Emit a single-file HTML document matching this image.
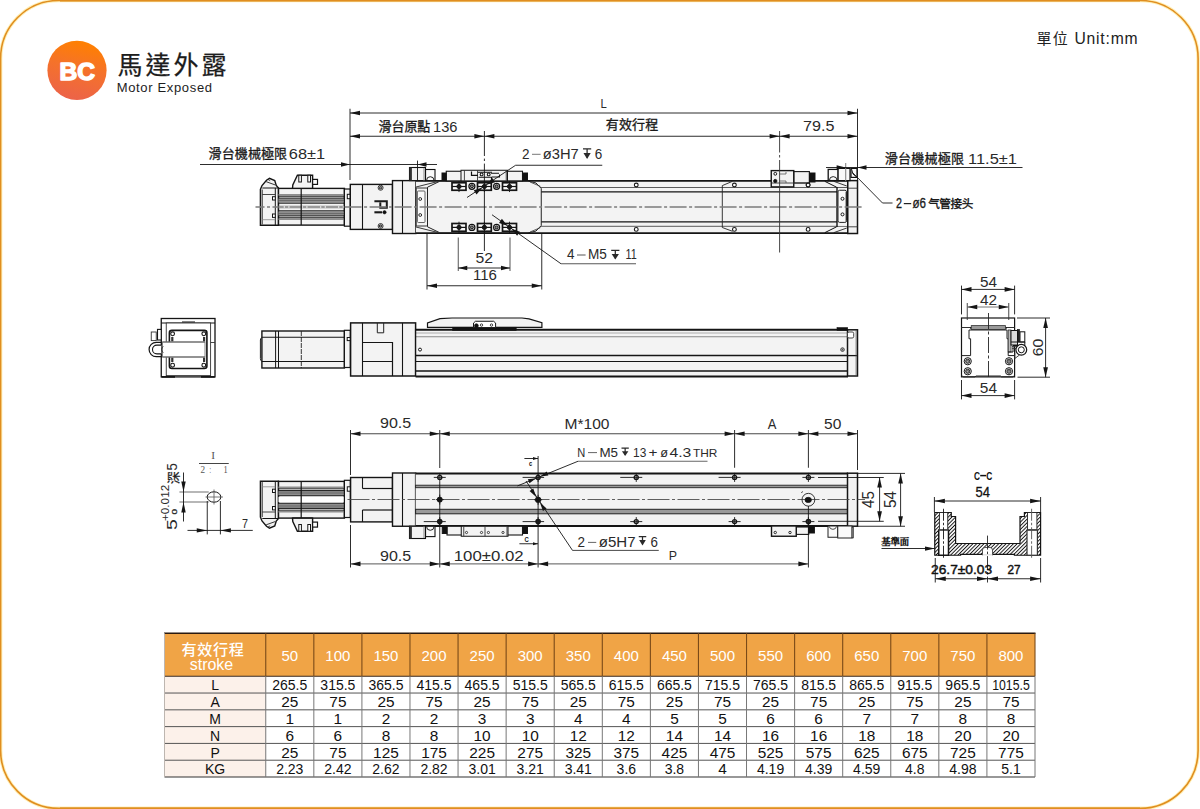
<!DOCTYPE html>
<html><head><meta charset="utf-8"><title>Motor Exposed BC</title>
<style>
html,body{margin:0;padding:0;background:#fff;}
body{width:1200px;height:809px;overflow:hidden;font-family:"Liberation Sans",sans-serif;}
svg{display:block;}
</style></head><body>
<svg width="1200" height="809" viewBox="0 0 1200 809">
<defs>
<linearGradient id="lg" x1="0.62" y1="0.02" x2="0.4" y2="0.98"><stop offset="0" stop-color="#ff8000"/><stop offset="0.45" stop-color="#f5722a"/><stop offset="1" stop-color="#ec6348"/></linearGradient>
<pattern id="hatch" width="2.6" height="2.6" patternUnits="userSpaceOnUse" patternTransform="rotate(-45)"><rect width="2.6" height="2.6" fill="#fff"/><line x1="0" y1="1.3" x2="2.6" y2="1.3" stroke="#111" stroke-width="0.95"/></pattern>
</defs>
<rect x="0.6" y="0.5" width="1197.5" height="807.9" rx="58" ry="58" fill="#fff" stroke="#fff0b8" stroke-width="3.6"/>
<rect x="0.6" y="0.5" width="1197.5" height="807.9" rx="58" ry="58" fill="none" stroke="#e08e20" stroke-width="1.6"/>
<rect x="60" y="0" width="1080" height="1.5" fill="#e08e20"/>
<rect x="60" y="807.5" width="1080" height="1.5" fill="#e08e20"/>
<circle cx="77" cy="70.3" r="29.6" fill="url(#lg)"/>
<text x="77.2" y="79.5" font-family='"Liberation Sans", sans-serif' font-size="24.6" fill="#fff" textLength="35.6" lengthAdjust="spacing" text-anchor="middle" font-weight="bold" stroke="#fff" stroke-width="1.5" stroke-linejoin="round">BC</text>
<text x="117.6" y="74.3" font-family='"Liberation Sans", "Noto Sans CJK TC", sans-serif' font-size="25" fill="#1d1d1d" stroke="#1d1d1d" stroke-width="0.25" textLength="109" lengthAdjust="spacing">馬達外露</text>
<text x="116.7" y="92" font-family='"Liberation Sans", sans-serif' font-size="13" fill="#1d1d1d" textLength="95.3" lengthAdjust="spacing">Motor Exposed</text>
<text x="1036.5" y="43.6" font-family='"Liberation Sans", "Noto Sans CJK TC", sans-serif' font-size="15" fill="#222" textLength="31.2" lengthAdjust="spacing">單位</text>
<text x="1074.4" y="43.75" font-family='"Liberation Sans", sans-serif' font-size="15.7" fill="#222" textLength="63.2" lengthAdjust="spacing">Unit:mm</text>
<path d="M260.4 225.2 L260.4 189.4 L262 185.5 L266.5 180.25 L269.5 178.25 L274.75 180.5 L276.25 185.5 L278.5 188 L278.5 225.2 Z" fill="#f3f3f3" stroke="#151515" stroke-width="1.4" stroke-linejoin="miter"/>
<line x1="262.3" y1="188" x2="278.5" y2="188" stroke="#151515" stroke-width="1"/>
<line x1="266.2" y1="181.7" x2="275.4" y2="185" stroke="#222" stroke-width="0.9"/>
<line x1="268" y1="179.4" x2="270.2" y2="180.7" stroke="#222" stroke-width="0.8"/>
<line x1="262.2" y1="189.5" x2="262.2" y2="224.4" stroke="#151515" stroke-width="0.9"/>
<line x1="275.3" y1="188" x2="275.3" y2="225.2" stroke="#151515" stroke-width="1"/>
<line x1="262.2" y1="194.5" x2="275.3" y2="194.5" stroke="#333" stroke-width="0.9"/>
<line x1="262.2" y1="219.7" x2="275.3" y2="219.7" stroke="#888" stroke-width="0.8"/>
<rect x="272.5" y="196.7" width="2.8" height="3.3" fill="#fff" stroke="#151515" stroke-width="1"/>
<rect x="272.5" y="214" width="2.8" height="3.4" fill="#fff" stroke="#151515" stroke-width="1"/>
<rect x="278.5" y="188.4" width="65.9" height="36.7" fill="#f3f3f3" stroke="#151515" stroke-width="1.4"/>
<rect x="278.5" y="194" width="65.9" height="1.7" fill="#8e8e8e" stroke="none" stroke-width="0.1"/>
<rect x="278.5" y="198.4" width="65.9" height="4.2" fill="#8e8e8e" stroke="none" stroke-width="0.1"/>
<rect x="278.5" y="211.4" width="65.9" height="4.2" fill="#8e8e8e" stroke="none" stroke-width="0.1"/>
<rect x="278.5" y="218.3" width="65.9" height="1.7" fill="#8e8e8e" stroke="none" stroke-width="0.1"/>
<rect x="278.5" y="205.7" width="65.9" height="2.6" fill="#9a9a9a" stroke="none" stroke-width="0.1"/>
<line x1="278.5" y1="196.3" x2="344.4" y2="196.3" stroke="#151515" stroke-width="0.9"/>
<line x1="278.5" y1="198.1" x2="344.4" y2="198.1" stroke="#151515" stroke-width="1"/>
<line x1="278.5" y1="203.2" x2="344.4" y2="203.2" stroke="#151515" stroke-width="1"/>
<line x1="278.5" y1="210.8" x2="344.4" y2="210.8" stroke="#151515" stroke-width="1"/>
<line x1="278.5" y1="215.9" x2="344.4" y2="215.9" stroke="#151515" stroke-width="1"/>
<line x1="278.5" y1="217.7" x2="344.4" y2="217.7" stroke="#151515" stroke-width="0.9"/>
<line x1="278.5" y1="200.5" x2="344.4" y2="200.5" stroke="#555" stroke-width="0.6"/>
<line x1="278.5" y1="213.5" x2="344.4" y2="213.5" stroke="#555" stroke-width="0.6"/>
<circle cx="284.3" cy="207" r="0.65" fill="#fff" stroke="#fff" stroke-width="0.1"/>
<circle cx="288.9" cy="207" r="0.65" fill="#fff" stroke="#fff" stroke-width="0.1"/>
<circle cx="302.3" cy="207" r="0.65" fill="#fff" stroke="#fff" stroke-width="0.1"/>
<circle cx="306.9" cy="207" r="0.65" fill="#fff" stroke="#fff" stroke-width="0.1"/>
<circle cx="320.7" cy="207" r="0.65" fill="#fff" stroke="#fff" stroke-width="0.1"/>
<circle cx="325.3" cy="207" r="0.65" fill="#fff" stroke="#fff" stroke-width="0.1"/>
<circle cx="338.7" cy="207" r="0.65" fill="#fff" stroke="#fff" stroke-width="0.1"/>
<circle cx="343.3" cy="207" r="0.65" fill="#fff" stroke="#fff" stroke-width="0.1"/>
<line x1="301.2" y1="188.4" x2="301.2" y2="225.1" stroke="#151515" stroke-width="1.2"/>
<path d="M292.5 188.4 L292.8 185 L297.4 175.25 L312.6 175.25 L312.6 188.4 Z" fill="#f3f3f3" stroke="#151515" stroke-width="1.4" stroke-linejoin="miter"/>
<rect x="298.8" y="175.25" width="2.6" height="6.75" fill="#fff" stroke="#151515" stroke-width="1"/>
<rect x="307.8" y="175.25" width="2.7" height="6.75" fill="#fff" stroke="#151515" stroke-width="1"/>
<rect x="312.6" y="179.4" width="4.9" height="5" fill="#fff" stroke="#151515" stroke-width="1.2"/>
<line x1="292.5" y1="188.4" x2="312.6" y2="188.4" stroke="#151515" stroke-width="1"/>
<rect x="344.4" y="189" width="5.9" height="37.2" fill="#f3f3f3" stroke="#151515" stroke-width="1.2"/>
<rect x="347.3" y="194.3" width="3" height="4.4" fill="#fff" stroke="#151515" stroke-width="1"/>
<rect x="350.3" y="184.4" width="42.2" height="45" fill="#f3f3f3" stroke="#151515" stroke-width="1.4"/>
<line x1="362.5" y1="184.4" x2="362.5" y2="229.4" stroke="#151515" stroke-width="1.1"/>
<circle cx="380.6" cy="187.75" r="2.5" fill="#fff" stroke="#222" stroke-width="0.9"/>
<circle cx="380.6" cy="187.75" r="1.3" fill="#888" stroke="#222" stroke-width="0.9"/>
<circle cx="380.6" cy="226" r="2.5" fill="#fff" stroke="#222" stroke-width="0.9"/>
<circle cx="380.6" cy="226" r="1.3" fill="#888" stroke="#222" stroke-width="0.9"/>
<path d="M374.4 201.2 H386.8 V207.8 H380.3 V202.5" fill="none" stroke="#1a1a1a" stroke-width="2"/>
<path d="M374.4 212.3 H382" fill="none" stroke="#1a1a1a" stroke-width="2.1"/>
<circle cx="384.5" cy="212.3" r="1.7" fill="#111" stroke="#111" stroke-width="0.5"/>
<rect x="392.5" y="180.6" width="23.3" height="52.9" fill="#f3f3f3" stroke="#151515" stroke-width="1.4"/>
<line x1="402.5" y1="180.6" x2="402.5" y2="233.5" stroke="#151515" stroke-width="1.1"/>
<rect x="415.8" y="180.9" width="431.95" height="52.2" fill="#f3f3f3" stroke="none" stroke-width="1"/>
<line x1="415.8" y1="187.5" x2="847.75" y2="187.5" stroke="#333" stroke-width="0.8"/>
<line x1="415.8" y1="226.3" x2="847.75" y2="226.3" stroke="#333" stroke-width="0.8"/>
<line x1="415.8" y1="191.9" x2="847.75" y2="191.9" stroke="#151515" stroke-width="1.4"/>
<line x1="415.8" y1="221.9" x2="847.75" y2="221.9" stroke="#151515" stroke-width="1.4"/>
<line x1="415.8" y1="180.9" x2="848" y2="180.9" stroke="#151515" stroke-width="1.8"/>
<line x1="415.8" y1="233.1" x2="848" y2="233.1" stroke="#151515" stroke-width="1.8"/>
<circle cx="636.25" cy="185" r="1.9" fill="#fff" stroke="#151515" stroke-width="1.1"/>
<circle cx="636.25" cy="229.4" r="1.9" fill="#fff" stroke="#151515" stroke-width="1.1"/>
<circle cx="734.4" cy="185" r="1.9" fill="#fff" stroke="#151515" stroke-width="1.1"/>
<circle cx="734.4" cy="229.4" r="1.9" fill="#fff" stroke="#151515" stroke-width="1.1"/>
<circle cx="808.1" cy="185" r="1.9" fill="#fff" stroke="#151515" stroke-width="1.1"/>
<circle cx="808.1" cy="229.4" r="1.9" fill="#fff" stroke="#151515" stroke-width="1.1"/>
<path d="M732.5 181.3 L722.3 185.6 V227.5 L732.5 231.3" fill="none" stroke="#222" stroke-width="0.9"/>
<path d="M416 187 L440 181 L440 233 L416 227 Z" fill="#f3f3f3" stroke="#222" stroke-width="0.9" stroke-linejoin="miter"/>
<rect x="416.2" y="188" width="11.3" height="38" fill="#f3f3f3" stroke="#333" stroke-width="1" rx="1"/>
<rect x="417.4" y="191" width="7.6" height="31.5" fill="#fafafa" stroke="#555" stroke-width="0.9" rx="1"/>
<circle cx="420.2" cy="199" r="1.4" fill="#fff" stroke="#151515" stroke-width="0.9"/>
<circle cx="420.2" cy="215" r="1.4" fill="#fff" stroke="#151515" stroke-width="0.9"/>
<rect x="837" y="188.2" width="10.75" height="37.6" fill="#f3f3f3" stroke="none" stroke-width="0.5"/>
<line x1="824.75" y1="181.3" x2="836.6" y2="187.2" stroke="#111" stroke-width="1"/>
<line x1="824.75" y1="232.7" x2="836.6" y2="226.8" stroke="#111" stroke-width="1"/>
<line x1="833.7" y1="181.3" x2="846.8" y2="186" stroke="#222" stroke-width="0.9"/>
<line x1="833.7" y1="232.7" x2="846.8" y2="228" stroke="#222" stroke-width="0.9"/>
<line x1="837" y1="187" x2="837" y2="227" stroke="#151515" stroke-width="1.4"/>
<rect x="838" y="190.25" width="8.5" height="32.15" fill="#fafafa" stroke="#222" stroke-width="1" rx="1.6"/>
<line x1="845.6" y1="192" x2="845.6" y2="221" stroke="#999" stroke-width="0.9"/>
<circle cx="842.5" cy="198.75" r="1.5" fill="#fff" stroke="#151515" stroke-width="1"/>
<circle cx="842.5" cy="214.4" r="1.5" fill="#fff" stroke="#151515" stroke-width="1"/>
<rect x="847.75" y="180.6" width="9.75" height="52.9" fill="#f3f3f3" stroke="#151515" stroke-width="1.5"/>
<line x1="847.75" y1="188.2" x2="857.5" y2="188.2" stroke="#333" stroke-width="0.9"/>
<line x1="847.75" y1="226.8" x2="857.5" y2="226.8" stroke="#333" stroke-width="0.9"/>
<path d="M440.5 180.9 L528 180.9 L536 183 L541.25 188.5 L541.25 225.5 L536 231 L528 233.1 L440.5 233.1 L427.5 226.8 L427.5 187.2 Z" fill="#f3f3f3" stroke="#222" stroke-width="1" stroke-linejoin="miter"/>
<line x1="440" y1="180.9" x2="530" y2="180.9" stroke="#151515" stroke-width="1.8"/>
<line x1="440" y1="233.1" x2="530" y2="233.1" stroke="#151515" stroke-width="1.8"/>
<line x1="530" y1="182" x2="540.5" y2="186.4" stroke="#333" stroke-width="0.8"/>
<line x1="530" y1="232" x2="540.5" y2="227.6" stroke="#333" stroke-width="0.8"/>
<rect x="452" y="182.75" width="14" height="7.5" fill="#fafafa" stroke="#151515" stroke-width="1.7"/>
<line x1="452" y1="186.5" x2="466" y2="186.5" stroke="#151515" stroke-width="1.2"/>
<line x1="459" y1="180.95" x2="459" y2="192.05" stroke="#151515" stroke-width="0.9"/>
<circle cx="459" cy="186.5" r="2.1" fill="#1a1a1a" stroke="#151515" stroke-width="1"/>
<rect x="452" y="223.5" width="14" height="7.75" fill="#fafafa" stroke="#151515" stroke-width="1.7"/>
<line x1="452" y1="227.38" x2="466" y2="227.38" stroke="#151515" stroke-width="1.2"/>
<line x1="459" y1="221.7" x2="459" y2="233.05" stroke="#151515" stroke-width="0.9"/>
<circle cx="459" cy="227.38" r="2.1" fill="#1a1a1a" stroke="#151515" stroke-width="1"/>
<rect x="477.5" y="182.75" width="13.8" height="7.5" fill="#fafafa" stroke="#151515" stroke-width="1.7"/>
<line x1="477.5" y1="186.5" x2="491.3" y2="186.5" stroke="#151515" stroke-width="1.2"/>
<line x1="484.4" y1="180.95" x2="484.4" y2="192.05" stroke="#151515" stroke-width="0.9"/>
<circle cx="484.4" cy="186.5" r="2.1" fill="#1a1a1a" stroke="#151515" stroke-width="1"/>
<rect x="477.5" y="223.5" width="13.8" height="7.75" fill="#fafafa" stroke="#151515" stroke-width="1.7"/>
<line x1="477.5" y1="227.38" x2="491.3" y2="227.38" stroke="#151515" stroke-width="1.2"/>
<line x1="484.4" y1="221.7" x2="484.4" y2="233.05" stroke="#151515" stroke-width="0.9"/>
<circle cx="484.4" cy="227.38" r="2.1" fill="#1a1a1a" stroke="#151515" stroke-width="1"/>
<rect x="502.5" y="182.75" width="14" height="7.5" fill="#fafafa" stroke="#151515" stroke-width="1.7"/>
<line x1="502.5" y1="186.5" x2="516.5" y2="186.5" stroke="#151515" stroke-width="1.2"/>
<line x1="509.5" y1="180.95" x2="509.5" y2="192.05" stroke="#151515" stroke-width="0.9"/>
<circle cx="509.5" cy="186.5" r="2.1" fill="#1a1a1a" stroke="#151515" stroke-width="1"/>
<rect x="502.5" y="223.5" width="14" height="7.75" fill="#fafafa" stroke="#151515" stroke-width="1.7"/>
<line x1="502.5" y1="227.38" x2="516.5" y2="227.38" stroke="#151515" stroke-width="1.2"/>
<line x1="509.5" y1="221.7" x2="509.5" y2="233.05" stroke="#151515" stroke-width="0.9"/>
<circle cx="509.5" cy="227.38" r="2.1" fill="#1a1a1a" stroke="#151515" stroke-width="1"/>
<circle cx="471.9" cy="186.3" r="3" fill="#fff" stroke="#111" stroke-width="1.2"/>
<circle cx="471.9" cy="186.3" r="1.5" fill="#888" stroke="#111" stroke-width="1"/>
<circle cx="471.9" cy="227.4" r="3" fill="#fff" stroke="#111" stroke-width="1.2"/>
<circle cx="471.9" cy="227.4" r="1.5" fill="#888" stroke="#111" stroke-width="1"/>
<circle cx="496.6" cy="186.3" r="3" fill="#fff" stroke="#111" stroke-width="1.2"/>
<circle cx="496.6" cy="186.3" r="1.5" fill="#888" stroke="#111" stroke-width="1"/>
<circle cx="496.6" cy="227.4" r="3" fill="#fff" stroke="#111" stroke-width="1.2"/>
<circle cx="496.6" cy="227.4" r="1.5" fill="#888" stroke="#111" stroke-width="1"/>
<rect x="446.25" y="171.25" width="76.25" height="9.65" fill="#f3f3f3" stroke="#151515" stroke-width="1.1"/>
<rect x="461" y="170.25" width="46.5" height="10.65" fill="#f3f3f3" stroke="#151515" stroke-width="1"/>
<rect x="442" y="173" width="4.25" height="7.4" fill="#111" stroke="#151515" stroke-width="1"/>
<rect x="522.5" y="173" width="5" height="7.4" fill="#111" stroke="#151515" stroke-width="1"/>
<line x1="464.4" y1="170.25" x2="464.4" y2="180.9" stroke="#333" stroke-width="0.9"/>
<line x1="477.5" y1="170.25" x2="477.5" y2="180.9" stroke="#333" stroke-width="0.9"/>
<line x1="506.25" y1="170.25" x2="506.25" y2="180.9" stroke="#333" stroke-width="0.9"/>
<path d="M471.5 171.6 V175.4 H478" fill="none" stroke="#111" stroke-width="1.2"/>
<path d="M491 173.2 H499 M492 177 H499.5 V174.5" fill="none" stroke="#111" stroke-width="1.1"/>
<path d="M478 172.2 H492 M478.5 177.2 H491.5 V180.5" fill="none" stroke="#111" stroke-width="1.1"/>
<circle cx="481.6" cy="174.4" r="1.4" fill="#fff" stroke="#151515" stroke-width="1.1"/>
<circle cx="488.7" cy="174.4" r="1.4" fill="#fff" stroke="#151515" stroke-width="1.1"/>
<rect x="425.5" y="169.5" width="9.5" height="11.1" fill="#fafafa" stroke="#111" stroke-width="1.1"/>
<rect x="409.5" y="167.5" width="16" height="13.1" fill="#f3f3f3" stroke="#111" stroke-width="1.1"/>
<rect x="409.5" y="167.5" width="2.1" height="13.1" fill="#333" stroke="#222" stroke-width="0.6"/>
<line x1="424" y1="168" x2="424" y2="180.6" stroke="#888" stroke-width="1"/>
<path d="M426.6 180.4 A3.7 3.7 0 0 1 434 180.4" fill="none" stroke="#222" stroke-width="1"/>
<rect x="793.75" y="171.6" width="15.65" height="11.4" fill="#f3f3f3" stroke="#151515" stroke-width="1.1"/>
<rect x="771.25" y="170.6" width="22.5" height="16.3" fill="#f3f3f3" stroke="#151515" stroke-width="1.4"/>
<rect x="809.4" y="173" width="5.6" height="9" fill="#111" stroke="#151515" stroke-width="1"/>
<line x1="771.25" y1="183" x2="809.4" y2="183" stroke="#333" stroke-width="0.9"/>
<path d="M779.5 174 H786 V172 M779.5 181 H786 V183" fill="none" stroke="#555" stroke-width="0.8"/>
<circle cx="775.3" cy="173.8" r="1.4" fill="#fff" stroke="#151515" stroke-width="1"/>
<circle cx="775.3" cy="181" r="1.6" fill="#111" stroke="#151515" stroke-width="1"/>
<circle cx="808.1" cy="185" r="1.9" fill="#fff" stroke="#151515" stroke-width="1.1"/>
<rect x="828.2" y="169.4" width="9.9" height="11.2" fill="#fafafa" stroke="#111" stroke-width="1.3"/>
<path d="M829.4 180.4 A3.8 3.8 0 0 1 837 180.4" fill="none" stroke="#222" stroke-width="1"/>
<rect x="838.1" y="168.4" width="11.9" height="12.2" fill="#fafafa" stroke="#111" stroke-width="1.2"/>
<rect x="851" y="168.4" width="6" height="9" fill="#fafafa" stroke="#111" stroke-width="1.2"/>
<path d="M851.5 169 Q852 175 856.5 177" fill="none" stroke="#222" stroke-width="1"/>
<line x1="845.7" y1="163" x2="845.7" y2="181" stroke="#888" stroke-width="1.1"/>
<line x1="255.5" y1="207" x2="278" y2="207" stroke="#7c7c7c" stroke-width="1.4" stroke-dasharray="9 2.5 3 2.5"/>
<line x1="344.6" y1="207" x2="863" y2="207" stroke="#7c7c7c" stroke-width="1.4" stroke-dasharray="17 2.5 3 2.5"/>
<line x1="484.4" y1="131" x2="484.4" y2="156" stroke="#151515" stroke-width="0.9"/>
<line x1="484.4" y1="158.6" x2="484.4" y2="161" stroke="#151515" stroke-width="0.9"/>
<line x1="484.4" y1="163.6" x2="484.4" y2="251" stroke="#151515" stroke-width="0.9"/>
<line x1="779.6" y1="131" x2="779.6" y2="152.5" stroke="#333" stroke-width="0.9"/>
<line x1="779.6" y1="155" x2="779.6" y2="157.5" stroke="#333" stroke-width="0.9"/>
<line x1="779.6" y1="160" x2="779.6" y2="252.5" stroke="#333" stroke-width="0.9"/>
<line x1="350" y1="108.75" x2="350" y2="180" stroke="#151515" stroke-width="0.9"/>
<line x1="857.5" y1="108.75" x2="857.5" y2="181" stroke="#151515" stroke-width="0.9"/>
<line x1="350" y1="113" x2="857.5" y2="113" stroke="#151515" stroke-width="0.9"/>
<path d="M350 113 L360 110.65 L360 115.35 Z" fill="#151515"/>
<path d="M857.5 113 L847.5 110.65 L847.5 115.35 Z" fill="#151515"/>
<line x1="350" y1="136.25" x2="857.5" y2="136.25" stroke="#151515" stroke-width="0.9"/>
<path d="M350 136.25 L360 133.9 L360 138.6 Z" fill="#151515"/>
<path d="M484.4 136.25 L474.4 133.9 L474.4 138.6 Z" fill="#151515"/>
<path d="M484.4 136.25 L494.4 133.9 L494.4 138.6 Z" fill="#151515"/>
<path d="M779.6 136.25 L769.6 133.9 L769.6 138.6 Z" fill="#151515"/>
<path d="M779.6 136.25 L789.6 133.9 L789.6 138.6 Z" fill="#151515"/>
<path d="M857.5 136.25 L847.5 133.9 L847.5 138.6 Z" fill="#151515"/>
<line x1="200" y1="164.5" x2="437" y2="164.5" stroke="#151515" stroke-width="0.9"/>
<path d="M350 164.5 L341 162.15 L341 166.85 Z" fill="#151515"/>
<path d="M417.5 164.5 L426.5 162.15 L426.5 166.85 Z" fill="#151515"/>
<line x1="417.5" y1="160.6" x2="417.5" y2="181" stroke="#151515" stroke-width="0.9"/>
<line x1="826" y1="167.5" x2="1022.5" y2="167.5" stroke="#151515" stroke-width="0.9"/>
<path d="M845.6 167.5 L836.6 165.15 L836.6 169.85 Z" fill="#151515"/>
<path d="M857.5 167.5 L866.5 165.15 L866.5 169.85 Z" fill="#151515"/>
<line x1="458.25" y1="237.5" x2="458.25" y2="271" stroke="#444" stroke-width="0.9"/>
<line x1="510" y1="237.5" x2="510" y2="271" stroke="#444" stroke-width="0.9"/>
<line x1="458.25" y1="268" x2="510" y2="268" stroke="#151515" stroke-width="0.9"/>
<path d="M458.25 268 L467.25 265.65 L467.25 270.35 Z" fill="#151515"/>
<path d="M510 268 L501 265.65 L501 270.35 Z" fill="#151515"/>
<line x1="427" y1="233.5" x2="427" y2="289.5" stroke="#151515" stroke-width="0.9"/>
<line x1="541.75" y1="233.5" x2="541.75" y2="289.5" stroke="#151515" stroke-width="0.9"/>
<line x1="427" y1="285.75" x2="541.75" y2="285.75" stroke="#151515" stroke-width="0.9"/>
<path d="M427 285.75 L437 283.4 L437 288.1 Z" fill="#151515"/>
<path d="M541.75 285.75 L531.75 283.4 L531.75 288.1 Z" fill="#151515"/>
<line x1="515.6" y1="165.25" x2="602.25" y2="165.25" stroke="#151515" stroke-width="0.9"/>
<line x1="515.6" y1="165.25" x2="467" y2="197.5" stroke="#151515" stroke-width="0.9"/>
<path d="M0 0 L-8.5 -2.5 L-8.5 2.5 Z" fill="#151515" transform="translate(486.57 184.76) rotate(146.43)"/>
<path d="M0 0 L-8.5 -2.5 L-8.5 2.5 Z" fill="#151515" transform="translate(482.23 187.64) rotate(326.43)"/>
<line x1="561" y1="263.75" x2="636" y2="263.75" stroke="#444" stroke-width="0.9"/>
<line x1="561" y1="263.75" x2="492" y2="214.75" stroke="#151515" stroke-width="0.9"/>
<path d="M0 0 L-8.5 -2.5 L-8.5 2.5 Z" fill="#151515" transform="translate(511.62 228.81) rotate(-144.62)"/>
<path d="M0 0 L-8.5 -2.5 L-8.5 2.5 Z" fill="#151515" transform="translate(507.38 225.79) rotate(35.38)"/>
<path d="M852.5 172.5 L882.5 203 H892.5" fill="none" stroke="#151515" stroke-width="0.9"/>
<text transform="translate(600.6 107.5) scale(0.8535 1)" x="-0" y="0" font-family='"Liberation Sans", sans-serif' font-size="13.3" fill="#2a2a2a">L</text>
<text x="378.5" y="131.4" font-family='"Liberation Sans", "Noto Sans CJK TC", sans-serif' font-size="13" fill="#1a1a1a" stroke="#1a1a1a" stroke-width="0.3" textLength="51.85" lengthAdjust="spacing">滑台原點</text>
<text transform="translate(433 132.4) scale(0.9980 1)" x="-0" y="0" font-family='"Liberation Sans", sans-serif' font-size="14.7" fill="#2a2a2a">136</text>
<text x="605.7" y="129.4" font-family='"Liberation Sans", "Noto Sans CJK TC", sans-serif' font-size="13" fill="#1a1a1a" stroke="#1a1a1a" stroke-width="0.3" textLength="52.6" lengthAdjust="spacing">有效行程</text>
<text transform="translate(803 130.6) scale(1.1017 1)" x="-0" y="0" font-family='"Liberation Sans", sans-serif' font-size="14.7" fill="#2a2a2a">79.5</text>
<text x="208.6" y="157.6" font-family='"Liberation Sans", "Noto Sans CJK TC", sans-serif' font-size="13" fill="#1a1a1a" stroke="#1a1a1a" stroke-width="0.3" textLength="78.5" lengthAdjust="spacing">滑台機械極限</text>
<text transform="translate(288.8 158.7) scale(1.1118 1)" x="-0" y="0" font-family='"Liberation Sans", sans-serif' font-size="14.7" fill="#2a2a2a">68±1</text>
<text x="884.8" y="163.4" font-family='"Liberation Sans", "Noto Sans CJK TC", sans-serif' font-size="13" fill="#1a1a1a" stroke="#1a1a1a" stroke-width="0.3" textLength="79.25" lengthAdjust="spacing">滑台機械極限</text>
<text transform="translate(968 164.3) scale(1.1204 1)" x="-0" y="0" font-family='"Liberation Sans", sans-serif' font-size="14.7" fill="#2a2a2a">11.5±1</text>
<text transform="translate(521.9 158.75) scale(0.9131 1)" x="-0" y="0" font-family='"Liberation Sans", sans-serif' font-size="14.8" fill="#2a2a2a">2</text>
<line x1="532" y1="154.3" x2="540.6" y2="154.3" stroke="#777" stroke-width="1"/>
<text transform="translate(542.75 158.75) scale(0.9949 1)" x="-0" y="0" font-family='"Liberation Sans", sans-serif' font-size="14.8" fill="#2a2a2a">ø3H7</text>
<path d="M583 148.85 H591.2 M587.1 148.85 V157.75" stroke="#2a2a2a" stroke-width="1.25" fill="none"/>
<path d="M587.1 158.95 L583.49 152.93 L590.71 152.93 Z" fill="#2a2a2a"/>
<text transform="translate(594.75 158.75) scale(0.9131 1)" x="-0" y="0" font-family='"Liberation Sans", sans-serif' font-size="14.8" fill="#2a2a2a">6</text>
<text transform="translate(475.5 262.6) scale(1.0725 1)" x="-0" y="0" font-family='"Liberation Sans", sans-serif' font-size="14.7" fill="#2a2a2a">52</text>
<text transform="translate(473 279.6) scale(1.0236 1)" x="-0" y="0" font-family='"Liberation Sans", sans-serif' font-size="14.7" fill="#2a2a2a">116</text>
<text transform="translate(566.9 259.4) scale(0.9450 1)" x="-0" y="0" font-family='"Liberation Sans", sans-serif' font-size="14.3" fill="#2a2a2a">4</text>
<line x1="577" y1="255" x2="585.6" y2="255" stroke="#555" stroke-width="1"/>
<text transform="translate(588 259.4) scale(0.9508 1)" x="-0" y="0" font-family='"Liberation Sans", sans-serif' font-size="14.3" fill="#2a2a2a">M5</text>
<path d="M611.2 250.3 H619.4 M615.3 250.3 V258.4" stroke="#2a2a2a" stroke-width="1.25" fill="none"/>
<path d="M615.3 259.6 L611.69 254.02 L618.91 254.02 Z" fill="#2a2a2a"/>
<text transform="translate(625.6 259.4) scale(0.7598 1)" x="-0" y="0" font-family='"Liberation Sans", sans-serif' font-size="14.3" fill="#2a2a2a">11</text>
<text transform="translate(896 208.2) scale(0.7722 1)" x="-0" y="0" font-family='"Liberation Sans", sans-serif' font-size="14" fill="#1a1a1a" stroke="#1a1a1a" stroke-width="0.3">2</text>
<line x1="903.8" y1="203.6" x2="911.2" y2="203.6" stroke="#222" stroke-width="1.2"/>
<text transform="translate(912.5 208.2) scale(0.8277 1)" x="-0" y="0" font-family='"Liberation Sans", sans-serif' font-size="14" fill="#1a1a1a" stroke="#1a1a1a" stroke-width="0.3">ø6</text>
<text x="928.2" y="207.6" font-family='"Liberation Sans", "Noto Sans CJK SC", sans-serif' font-size="11.6" fill="#111" stroke="#111" stroke-width="0.35" textLength="45.05" lengthAdjust="spacing">气管接头</text>
<rect x="161.25" y="318.5" width="53.75" height="58.4" fill="#fff" stroke="#151515" stroke-width="1.3"/>
<line x1="161.25" y1="323" x2="215" y2="323" stroke="#151515" stroke-width="1"/>
<rect x="166.25" y="323" width="44.35" height="52.6" fill="#fff" stroke="#333" stroke-width="0.9"/>
<line x1="182" y1="322" x2="195" y2="322" stroke="#333" stroke-width="1.2"/>
<rect x="169.4" y="330.4" width="37.5" height="38.1" fill="#fff" stroke="#151515" stroke-width="1.6" rx="2.5"/>
<circle cx="172.6" cy="333.8" r="1.9" fill="#fff" stroke="#151515" stroke-width="1.1"/>
<circle cx="203.8" cy="333.8" r="1.9" fill="#fff" stroke="#151515" stroke-width="1.1"/>
<circle cx="172.6" cy="365.2" r="1.9" fill="#fff" stroke="#151515" stroke-width="1.1"/>
<circle cx="203.8" cy="365.2" r="1.9" fill="#fff" stroke="#151515" stroke-width="1.1"/>
<line x1="172.3" y1="337" x2="172.3" y2="341.5" stroke="#333" stroke-width="2.2"/>
<line x1="172.3" y1="357.5" x2="172.3" y2="362" stroke="#333" stroke-width="2.2"/>
<line x1="204.1" y1="337" x2="204.1" y2="341.5" stroke="#333" stroke-width="2.2"/>
<line x1="204.1" y1="357.5" x2="204.1" y2="362" stroke="#333" stroke-width="2.2"/>
<rect x="157.5" y="329.4" width="3.75" height="10.6" fill="#fff" stroke="#151515" stroke-width="1.1"/>
<rect x="151.25" y="332" width="5" height="8.6" fill="#fff" stroke="#333" stroke-width="0.9"/>
<path d="M161.3 342.3 H156.3 A7.2 7.2 0 0 0 156.3 356.7 H161.3 Z" fill="#fff" stroke="#151515" stroke-width="1.2"/>
<path d="M161.3 345.1 H156.9 A4.4 4.4 0 0 0 156.9 353.9 H161.3" fill="#fff" stroke="#151515" stroke-width="1.1"/>
<rect x="162.5" y="342" width="42.5" height="15" fill="#fff" stroke="#777" stroke-width="0.9"/>
<path d="M162.5 342 H205 M162.5 357 H205" fill="none" stroke="#666" stroke-width="1.2"/>
<path d="M163.2 346.3 Q160 349.5 163.2 352.7" fill="none" stroke="#333" stroke-width="1"/>
<line x1="210.6" y1="342.5" x2="215" y2="342.5" stroke="#333" stroke-width="0.9"/>
<path d="M161.5 376.9 H175 M201 376.9 H214.8" fill="none" stroke="#151515" stroke-width="1.6"/>
<rect x="261.9" y="331" width="82.5" height="37" fill="#f3f3f3" stroke="#151515" stroke-width="1.4"/>
<path d="M261.9 337.5 Q260.4 338 260.4 340 V358.5 Q260.4 361 261.9 361.3" fill="none" stroke="#222" stroke-width="1"/>
<line x1="275.6" y1="331" x2="275.6" y2="368" stroke="#151515" stroke-width="1"/>
<line x1="278.5" y1="331" x2="278.5" y2="368" stroke="#151515" stroke-width="1"/>
<line x1="301.3" y1="331" x2="301.3" y2="368" stroke="#222" stroke-width="0.9" stroke-dasharray="5 1"/>
<line x1="262" y1="337.3" x2="344.4" y2="337.3" stroke="#151515" stroke-width="1.1"/>
<line x1="262" y1="361.5" x2="344.4" y2="361.5" stroke="#151515" stroke-width="1.1"/>
<rect x="344.4" y="330.3" width="5.9" height="37.2" fill="#f3f3f3" stroke="#151515" stroke-width="1.2"/>
<rect x="347.2" y="337.5" width="3.1" height="3.1" fill="#fff" stroke="#151515" stroke-width="1"/>
<rect x="350.6" y="322.9" width="65" height="53.1" fill="#f3f3f3" stroke="#151515" stroke-width="1.5"/>
<line x1="362.5" y1="322.9" x2="362.5" y2="376" stroke="#151515" stroke-width="1.1"/>
<line x1="402.5" y1="322.9" x2="402.5" y2="376" stroke="#151515" stroke-width="1.1"/>
<path d="M362.5 342.5 H392.5 V376 M362.5 361.5 H392.5" fill="none" stroke="#151515" stroke-width="1.2"/>
<path d="M377.3 323 V332.8 H383.7 V323" fill="none" stroke="#222" stroke-width="1"/>
<rect x="415.6" y="329.8" width="431.9" height="46.7" fill="#f3f3f3" stroke="none" stroke-width="1"/>
<line x1="415.6" y1="333" x2="847.5" y2="333" stroke="#999" stroke-width="0.8"/>
<line x1="415.6" y1="336.8" x2="847.5" y2="336.8" stroke="#8a8a8a" stroke-width="1.1"/>
<line x1="415.6" y1="355.6" x2="857.5" y2="355.6" stroke="#151515" stroke-width="1.5"/>
<line x1="415.6" y1="361.5" x2="847.5" y2="361.5" stroke="#151515" stroke-width="1.1"/>
<line x1="415.6" y1="371" x2="847.5" y2="371" stroke="#151515" stroke-width="1.5"/>
<line x1="415.6" y1="329.8" x2="848" y2="329.8" stroke="#151515" stroke-width="1.9"/>
<line x1="415.6" y1="376.5" x2="848" y2="376.5" stroke="#151515" stroke-width="1.8"/>
<line x1="415.6" y1="329" x2="415.6" y2="376.5" stroke="#151515" stroke-width="1.3"/>
<circle cx="420" cy="349.6" r="1.5" fill="#fff" stroke="#151515" stroke-width="1"/>
<circle cx="842.5" cy="349.6" r="1.8" fill="#fff" stroke="#222" stroke-width="0.9"/>
<path d="M841.3 349.6 H843.7 M842.5 348.4 V350.8" fill="none" stroke="#444" stroke-width="0.7"/>
<rect x="847.5" y="329.8" width="10" height="46.2" fill="#f3f3f3" stroke="#151515" stroke-width="1.5"/>
<line x1="847.5" y1="355.6" x2="857.5" y2="355.6" stroke="#151515" stroke-width="1.3"/>
<line x1="856.1" y1="330" x2="856.1" y2="376" stroke="#555" stroke-width="0.7"/>
<rect x="847.5" y="332" width="6.2" height="6" fill="#fff" stroke="#333" stroke-width="0.9" rx="1.5"/>
<rect x="837" y="327.6" width="10.6" height="2.8" fill="#111" stroke="#151515" stroke-width="0.6"/>
<path d="M427.5 327.3 L427.5 323 L440 318.6 L452 318 L522 318 L529 318.8 L541.9 322.6 L541.9 327.3 Z" fill="#f3f3f3" stroke="#151515" stroke-width="1.2" stroke-linejoin="miter"/>
<rect x="452.5" y="327.2" width="63.8" height="3.4" fill="#111" stroke="#151515" stroke-width="0.5"/>
<path d="M473.5 327.6 L473.5 323 L475.5 321.25 L493.6 321.25 L495.6 323 L495.6 327.6 Z" fill="#fff" stroke="#151515" stroke-width="1" stroke-linejoin="miter"/>
<circle cx="476.4" cy="325.7" r="1.9" fill="#111" stroke="#151515" stroke-width="0.8"/>
<circle cx="481.5" cy="325.1" r="1.2" fill="#fff" stroke="#151515" stroke-width="0.8"/>
<circle cx="491.5" cy="325.1" r="1.2" fill="#fff" stroke="#151515" stroke-width="0.8"/>
<rect x="961.5" y="318" width="53.1" height="58.9" fill="#fff" stroke="#151515" stroke-width="1.2"/>
<line x1="961.5" y1="327.5" x2="1014.6" y2="327.5" stroke="#151515" stroke-width="1"/>
<rect x="971.25" y="325.6" width="34.35" height="3.8" fill="#9a9a9a" stroke="#333" stroke-width="0.8"/>
<path d="M961.5 327.5 H970 L971.25 329.4" fill="none" stroke="#333" stroke-width="0.9"/>
<path d="M969 330 V338.75 H970.6 V355.6 H961.5" fill="none" stroke="#222" stroke-width="1"/>
<path d="M969 330 H1007 V338.75 H1008.2 V355.6" fill="none" stroke="#222" stroke-width="1"/>
<path d="M1005.6 329.4 L1007 327.5 H1014.6" fill="none" stroke="#333" stroke-width="0.9"/>
<line x1="1008.2" y1="355.6" x2="1014.6" y2="355.6" stroke="#151515" stroke-width="1"/>
<circle cx="967.75" cy="361.25" r="3.6" fill="#fff" stroke="#151515" stroke-width="1"/>
<circle cx="967.75" cy="361.25" r="2.1" fill="#aaa" stroke="#151515" stroke-width="0.9"/>
<circle cx="967.75" cy="361.25" r="0.9" fill="#fff" stroke="#151515" stroke-width="0.6"/>
<circle cx="967.75" cy="371.25" r="3.6" fill="#fff" stroke="#151515" stroke-width="1"/>
<circle cx="967.75" cy="371.25" r="2.1" fill="#aaa" stroke="#151515" stroke-width="0.9"/>
<circle cx="967.75" cy="371.25" r="0.9" fill="#fff" stroke="#151515" stroke-width="0.6"/>
<circle cx="1009" cy="361.25" r="3.6" fill="#fff" stroke="#151515" stroke-width="1"/>
<circle cx="1009" cy="361.25" r="2.1" fill="#aaa" stroke="#151515" stroke-width="0.9"/>
<circle cx="1009" cy="361.25" r="0.9" fill="#fff" stroke="#151515" stroke-width="0.6"/>
<circle cx="1009" cy="371.25" r="3.6" fill="#fff" stroke="#151515" stroke-width="1"/>
<circle cx="1009" cy="371.25" r="2.1" fill="#aaa" stroke="#151515" stroke-width="0.9"/>
<circle cx="1009" cy="371.25" r="0.9" fill="#fff" stroke="#151515" stroke-width="0.6"/>
<path d="M961.5 375.2 L963.2 376.9 H975 L976 376 H1000.5 L1001.5 376.9 H1013 L1014.6 375.2" fill="none" stroke="#222" stroke-width="1"/>
<rect x="1008.2" y="330" width="2.8" height="22" fill="#bbb" stroke="#333" stroke-width="0.8"/>
<rect x="1011" y="330.5" width="6.5" height="14.5" fill="#ddd" stroke="#151515" stroke-width="1"/>
<rect x="1017.5" y="329.4" width="2.1" height="12.6" fill="#222" stroke="#151515" stroke-width="0.6"/>
<rect x="1020" y="331.8" width="4.8" height="10.2" fill="#fff" stroke="#151515" stroke-width="1"/>
<path d="M1011 342 H1024.8 V345.5 H1013 V352 H1008" fill="none" stroke="#151515" stroke-width="1"/>
<path d="M1012 346.5 H1019 M1012 348.5 H1017" fill="none" stroke="#333" stroke-width="0.8"/>
<circle cx="1021.3" cy="349.8" r="5.4" fill="#fff" stroke="#151515" stroke-width="1.2"/>
<circle cx="1021.3" cy="349.8" r="3" fill="#fff" stroke="#151515" stroke-width="1"/>
<path d="M1014.8 352.5 V358.5 L1019.5 355" fill="none" stroke="#333" stroke-width="0.9"/>
<line x1="988.5" y1="313" x2="988.5" y2="379" stroke="#222" stroke-width="0.9" stroke-dasharray="16 2.5 3 2.5"/>
<line x1="961.5" y1="285.6" x2="961.5" y2="314.4" stroke="#151515" stroke-width="0.9"/>
<line x1="1014.6" y1="285.6" x2="1014.6" y2="314.4" stroke="#151515" stroke-width="0.9"/>
<line x1="961.5" y1="289.4" x2="1014.6" y2="289.4" stroke="#151515" stroke-width="0.9"/>
<path d="M961.5 289.4 L971.5 287.05 L971.5 291.75 Z" fill="#151515"/>
<path d="M1014.6 289.4 L1004.6 287.05 L1004.6 291.75 Z" fill="#151515"/>
<text transform="translate(980 287.1) scale(1.0940 1)" x="-0" y="0" font-family='"Liberation Sans", sans-serif' font-size="14" fill="#2a2a2a">54</text>
<line x1="967.25" y1="303" x2="967.25" y2="320" stroke="#333" stroke-width="0.9"/>
<line x1="1008.75" y1="303" x2="1008.75" y2="320" stroke="#333" stroke-width="0.9"/>
<line x1="967.25" y1="307" x2="1008.75" y2="307" stroke="#666" stroke-width="0.9"/>
<path d="M967.25 307 L977.25 304.65 L977.25 309.35 Z" fill="#151515"/>
<path d="M1008.75 307 L998.75 304.65 L998.75 309.35 Z" fill="#151515"/>
<text transform="translate(980 304.5) scale(1.0940 1)" x="-0" y="0" font-family='"Liberation Sans", sans-serif' font-size="14" fill="#2a2a2a">42</text>
<line x1="1017" y1="318" x2="1050" y2="318" stroke="#151515" stroke-width="0.9"/>
<line x1="1017.5" y1="377.2" x2="1050" y2="377.2" stroke="#151515" stroke-width="0.9"/>
<line x1="1045.6" y1="318" x2="1045.6" y2="377.2" stroke="#151515" stroke-width="0.9"/>
<path d="M1045.6 318 L1043.25 328 L1047.95 328 Z" fill="#151515"/>
<path d="M1045.6 377.2 L1043.25 367.2 L1047.95 367.2 Z" fill="#151515"/>
<text transform="translate(1043 356.3) rotate(-90) scale(1.1261 1)" x="-0" y="0" font-family='"Liberation Sans", sans-serif' font-size="14" fill="#2a2a2a">60</text>
<line x1="961.5" y1="380" x2="961.5" y2="399.4" stroke="#151515" stroke-width="0.9"/>
<line x1="1014.6" y1="380" x2="1014.6" y2="399.4" stroke="#151515" stroke-width="0.9"/>
<line x1="961.5" y1="395.6" x2="1014.6" y2="395.6" stroke="#151515" stroke-width="0.9"/>
<path d="M961.5 395.6 L971.5 393.25 L971.5 397.95 Z" fill="#151515"/>
<path d="M1014.6 395.6 L1004.6 393.25 L1004.6 397.95 Z" fill="#151515"/>
<text transform="translate(979.8 393.1) scale(1.1068 1)" x="-0" y="0" font-family='"Liberation Sans", sans-serif' font-size="14" fill="#2a2a2a">54</text>
<path d="M260.4 481.3 L260.4 517.1 L262 521 L266.5 526.25 L269.5 528.25 L274.75 526 L276.25 521 L278.5 518.5 L278.5 481.3 Z" fill="#f3f3f3" stroke="#151515" stroke-width="1.4" stroke-linejoin="miter"/>
<line x1="262.3" y1="518.5" x2="278.5" y2="518.5" stroke="#151515" stroke-width="1"/>
<line x1="266.2" y1="524.8" x2="275.4" y2="521.5" stroke="#222" stroke-width="0.9"/>
<line x1="268" y1="527.1" x2="270.2" y2="525.8" stroke="#222" stroke-width="0.8"/>
<line x1="262.2" y1="517" x2="262.2" y2="482.1" stroke="#151515" stroke-width="0.9"/>
<line x1="275.3" y1="518.5" x2="275.3" y2="481.3" stroke="#151515" stroke-width="1"/>
<line x1="262.2" y1="512" x2="275.3" y2="512" stroke="#333" stroke-width="0.9"/>
<line x1="262.2" y1="486.8" x2="275.3" y2="486.8" stroke="#888" stroke-width="0.8"/>
<rect x="272.5" y="489.2" width="2.8" height="3.3" fill="#fff" stroke="#151515" stroke-width="1"/>
<rect x="272.5" y="506.5" width="2.8" height="3.4" fill="#fff" stroke="#151515" stroke-width="1"/>
<rect x="278.5" y="481.4" width="65.9" height="36.7" fill="#f3f3f3" stroke="#151515" stroke-width="1.4"/>
<rect x="278.5" y="510.8" width="65.9" height="1.7" fill="#8e8e8e" stroke="none" stroke-width="0.1"/>
<rect x="278.5" y="503.9" width="65.9" height="4.2" fill="#8e8e8e" stroke="none" stroke-width="0.1"/>
<rect x="278.5" y="490.9" width="65.9" height="4.2" fill="#8e8e8e" stroke="none" stroke-width="0.1"/>
<rect x="278.5" y="486.5" width="65.9" height="1.7" fill="#8e8e8e" stroke="none" stroke-width="0.1"/>
<rect x="278.5" y="496.9" width="65.9" height="5.2" fill="#fff" stroke="none" stroke-width="0.1"/>
<line x1="278.5" y1="510.2" x2="344.4" y2="510.2" stroke="#151515" stroke-width="0.9"/>
<line x1="278.5" y1="508.4" x2="344.4" y2="508.4" stroke="#151515" stroke-width="1"/>
<line x1="278.5" y1="503.3" x2="344.4" y2="503.3" stroke="#151515" stroke-width="1"/>
<line x1="278.5" y1="495.7" x2="344.4" y2="495.7" stroke="#151515" stroke-width="1"/>
<line x1="278.5" y1="490.6" x2="344.4" y2="490.6" stroke="#151515" stroke-width="1"/>
<line x1="278.5" y1="488.8" x2="344.4" y2="488.8" stroke="#151515" stroke-width="0.9"/>
<line x1="278.5" y1="506" x2="344.4" y2="506" stroke="#555" stroke-width="0.6"/>
<line x1="278.5" y1="493" x2="344.4" y2="493" stroke="#555" stroke-width="0.6"/>
<line x1="301.2" y1="518.1" x2="301.2" y2="481.4" stroke="#151515" stroke-width="1.2"/>
<path d="M292.5 518.1 L292.8 521.5 L297.4 531.25 L312.6 531.25 L312.6 518.1 Z" fill="#f3f3f3" stroke="#151515" stroke-width="1.4" stroke-linejoin="miter"/>
<rect x="298.8" y="524.5" width="2.6" height="6.75" fill="#fff" stroke="#151515" stroke-width="1"/>
<rect x="307.8" y="524.5" width="2.7" height="6.75" fill="#fff" stroke="#151515" stroke-width="1"/>
<rect x="312.6" y="522.1" width="4.9" height="5" fill="#fff" stroke="#151515" stroke-width="1.2"/>
<line x1="292.5" y1="518.1" x2="312.6" y2="518.1" stroke="#151515" stroke-width="1"/>
<rect x="344.4" y="480.3" width="5.9" height="37.2" fill="#f3f3f3" stroke="#151515" stroke-width="1.2"/>
<rect x="347.3" y="486.8" width="3" height="4.4" fill="#fff" stroke="#151515" stroke-width="1"/>
<rect x="350.6" y="477.5" width="41.9" height="44.4" fill="#f3f3f3" stroke="#151515" stroke-width="1.4"/>
<line x1="362.5" y1="477.5" x2="362.5" y2="488.5" stroke="#151515" stroke-width="1.1"/>
<line x1="362.5" y1="510" x2="362.5" y2="521.9" stroke="#151515" stroke-width="1.1"/>
<line x1="362.5" y1="488.5" x2="392.5" y2="488.5" stroke="#151515" stroke-width="1.2"/>
<line x1="362.5" y1="510" x2="392.5" y2="510" stroke="#151515" stroke-width="1.2"/>
<rect x="392.5" y="473" width="23.1" height="53.25" fill="#f3f3f3" stroke="#151515" stroke-width="1.4"/>
<line x1="402.5" y1="473" x2="402.5" y2="526.25" stroke="#151515" stroke-width="1.1"/>
<rect x="415.6" y="473.5" width="431.9" height="52.5" fill="#f3f3f3" stroke="none" stroke-width="1"/>
<rect x="415.6" y="485.2" width="431.9" height="2.5" fill="#9a9a9a" stroke="#222" stroke-width="0.9"/>
<rect x="415.6" y="509.3" width="431.9" height="4.5" fill="#9a9a9a" stroke="#222" stroke-width="1"/>
<line x1="415.6" y1="473.5" x2="848" y2="473.5" stroke="#151515" stroke-width="1.9"/>
<line x1="415.6" y1="526" x2="848" y2="526" stroke="#151515" stroke-width="1.9"/>
<rect x="847.5" y="473.2" width="10" height="53" fill="#f3f3f3" stroke="#151515" stroke-width="1.5"/>
<line x1="347.5" y1="499.5" x2="865" y2="499.5" stroke="#444" stroke-width="0.85" stroke-dasharray="22 2.5 3 2.5"/>
<line x1="433.75" y1="477.4" x2="445.75" y2="477.4" stroke="#151515" stroke-width="0.9"/>
<line x1="439.75" y1="472.9" x2="439.75" y2="481.9" stroke="#151515" stroke-width="0.9"/>
<circle cx="439.75" cy="477.4" r="2" fill="#ddd" stroke="#151515" stroke-width="1.4"/>
<line x1="437.75" y1="477.4" x2="441.75" y2="477.4" stroke="#151515" stroke-width="0.8"/>
<line x1="439.75" y1="475.4" x2="439.75" y2="479.4" stroke="#151515" stroke-width="0.8"/>
<line x1="423.75" y1="521.6" x2="445.75" y2="521.6" stroke="#151515" stroke-width="0.9"/>
<line x1="439.75" y1="517.1" x2="439.75" y2="526.1" stroke="#151515" stroke-width="0.9"/>
<circle cx="439.75" cy="521.6" r="2.1" fill="#222" stroke="#151515" stroke-width="1.4"/>
<line x1="522.6" y1="477.4" x2="544.1" y2="477.4" stroke="#151515" stroke-width="0.9"/>
<line x1="538.1" y1="472.9" x2="538.1" y2="481.9" stroke="#151515" stroke-width="0.9"/>
<circle cx="538.1" cy="477.4" r="2" fill="#ddd" stroke="#151515" stroke-width="1.4"/>
<line x1="536.1" y1="477.4" x2="540.1" y2="477.4" stroke="#151515" stroke-width="0.8"/>
<line x1="538.1" y1="475.4" x2="538.1" y2="479.4" stroke="#151515" stroke-width="0.8"/>
<line x1="522.6" y1="521.6" x2="544.1" y2="521.6" stroke="#151515" stroke-width="0.9"/>
<line x1="538.1" y1="517.1" x2="538.1" y2="526.1" stroke="#151515" stroke-width="0.9"/>
<circle cx="538.1" cy="521.6" r="2.1" fill="#222" stroke="#151515" stroke-width="1.4"/>
<line x1="620.25" y1="477.4" x2="642.25" y2="477.4" stroke="#151515" stroke-width="0.9"/>
<line x1="636.25" y1="472.9" x2="636.25" y2="481.9" stroke="#151515" stroke-width="0.9"/>
<circle cx="636.25" cy="477.4" r="2" fill="#ddd" stroke="#151515" stroke-width="1.4"/>
<line x1="634.25" y1="477.4" x2="638.25" y2="477.4" stroke="#151515" stroke-width="0.8"/>
<line x1="636.25" y1="475.4" x2="636.25" y2="479.4" stroke="#151515" stroke-width="0.8"/>
<line x1="630.25" y1="521.6" x2="642.25" y2="521.6" stroke="#151515" stroke-width="0.9"/>
<line x1="636.25" y1="517.1" x2="636.25" y2="526.1" stroke="#151515" stroke-width="0.9"/>
<circle cx="636.25" cy="521.6" r="2" fill="#ddd" stroke="#151515" stroke-width="1.4"/>
<line x1="634.25" y1="521.6" x2="638.25" y2="521.6" stroke="#151515" stroke-width="0.8"/>
<line x1="636.25" y1="519.6" x2="636.25" y2="523.6" stroke="#151515" stroke-width="0.8"/>
<line x1="718.6" y1="477.4" x2="740.6" y2="477.4" stroke="#151515" stroke-width="0.9"/>
<line x1="734.6" y1="472.9" x2="734.6" y2="481.9" stroke="#151515" stroke-width="0.9"/>
<circle cx="734.6" cy="477.4" r="2" fill="#ddd" stroke="#151515" stroke-width="1.4"/>
<line x1="732.6" y1="477.4" x2="736.6" y2="477.4" stroke="#151515" stroke-width="0.8"/>
<line x1="734.6" y1="475.4" x2="734.6" y2="479.4" stroke="#151515" stroke-width="0.8"/>
<line x1="728.6" y1="521.6" x2="740.6" y2="521.6" stroke="#151515" stroke-width="0.9"/>
<line x1="734.6" y1="517.1" x2="734.6" y2="526.1" stroke="#151515" stroke-width="0.9"/>
<circle cx="734.6" cy="521.6" r="2" fill="#ddd" stroke="#151515" stroke-width="1.4"/>
<line x1="732.6" y1="521.6" x2="736.6" y2="521.6" stroke="#151515" stroke-width="0.8"/>
<line x1="734.6" y1="519.6" x2="734.6" y2="523.6" stroke="#151515" stroke-width="0.8"/>
<line x1="802.4" y1="477.4" x2="814.4" y2="477.4" stroke="#151515" stroke-width="0.9"/>
<line x1="808.4" y1="472.9" x2="808.4" y2="481.9" stroke="#151515" stroke-width="0.9"/>
<circle cx="808.4" cy="477.4" r="2" fill="#ddd" stroke="#151515" stroke-width="1.4"/>
<line x1="806.4" y1="477.4" x2="810.4" y2="477.4" stroke="#151515" stroke-width="0.8"/>
<line x1="808.4" y1="475.4" x2="808.4" y2="479.4" stroke="#151515" stroke-width="0.8"/>
<line x1="802.4" y1="521.6" x2="814.4" y2="521.6" stroke="#151515" stroke-width="0.9"/>
<line x1="808.4" y1="517.1" x2="808.4" y2="526.1" stroke="#151515" stroke-width="0.9"/>
<circle cx="808.4" cy="521.6" r="2.1" fill="#333" stroke="#151515" stroke-width="1.4"/>
<line x1="435.75" y1="499.6" x2="443.75" y2="499.6" stroke="#151515" stroke-width="0.9"/>
<line x1="439.75" y1="494.6" x2="439.75" y2="504.6" stroke="#151515" stroke-width="0.9"/>
<circle cx="439.75" cy="499.6" r="2.2" fill="#111" stroke="#151515" stroke-width="1.4"/>
<line x1="534.1" y1="499.75" x2="542.1" y2="499.75" stroke="#151515" stroke-width="0.9"/>
<line x1="538.1" y1="494.75" x2="538.1" y2="504.75" stroke="#151515" stroke-width="0.9"/>
<circle cx="538.1" cy="499.75" r="2.4" fill="#111" stroke="#151515" stroke-width="1.4"/>
<circle cx="808.4" cy="499.75" r="6.4" fill="none" stroke="#222" stroke-width="0.9"/>
<ellipse cx="808.2" cy="499.9" rx="3.2" ry="2.6" fill="#111" stroke="#151515" stroke-width="0.8"/>
<path d="M801.5 493 l1 -1.6" fill="none" stroke="#222" stroke-width="0.9"/>
<line x1="818" y1="477.5" x2="883.75" y2="477.5" stroke="#151515" stroke-width="0.9"/>
<line x1="818" y1="521.3" x2="883.75" y2="521.3" stroke="#151515" stroke-width="0.9"/>
<rect x="425.5" y="526.25" width="9.5" height="10.35" fill="#fafafa" stroke="#111" stroke-width="1.1"/>
<rect x="409.5" y="526.25" width="16" height="12.25" fill="#f3f3f3" stroke="#111" stroke-width="1.1"/>
<rect x="409.5" y="526.25" width="2.1" height="12.25" fill="#333" stroke="#222" stroke-width="0.6"/>
<line x1="424" y1="526.25" x2="424" y2="538" stroke="#888" stroke-width="1"/>
<path d="M426.6 526.6 A3.7 3.7 0 0 0 434 526.6" fill="none" stroke="#222" stroke-width="1"/>
<rect x="447" y="526.25" width="75.5" height="8.75" fill="#f3f3f3" stroke="#151515" stroke-width="1.1"/>
<rect x="461.25" y="526.25" width="46.75" height="10" fill="#f3f3f3" stroke="#151515" stroke-width="1"/>
<rect x="442.25" y="527" width="4.75" height="6.5" fill="#111" stroke="#151515" stroke-width="1"/>
<rect x="522.5" y="527" width="5" height="6.5" fill="#111" stroke="#151515" stroke-width="1"/>
<line x1="463.75" y1="526.25" x2="463.75" y2="536.25" stroke="#333" stroke-width="0.9"/>
<line x1="485" y1="526.25" x2="485" y2="536.25" stroke="#333" stroke-width="0.9"/>
<line x1="507" y1="526.25" x2="507" y2="536.25" stroke="#333" stroke-width="0.9"/>
<circle cx="466.5" cy="532.5" r="1.1" fill="#fff" stroke="#151515" stroke-width="0.8"/>
<circle cx="481.5" cy="532.5" r="1.1" fill="#fff" stroke="#151515" stroke-width="0.8"/>
<circle cx="488.4" cy="532.5" r="1.1" fill="#fff" stroke="#151515" stroke-width="0.8"/>
<circle cx="503" cy="532.5" r="1.1" fill="#fff" stroke="#151515" stroke-width="0.8"/>
<rect x="796.25" y="527" width="12.5" height="7.4" fill="#f3f3f3" stroke="#151515" stroke-width="1.1"/>
<rect x="771.5" y="526" width="24.75" height="10.25" fill="#f3f3f3" stroke="#151515" stroke-width="1.4"/>
<rect x="808.75" y="526" width="5.65" height="7" fill="#111" stroke="#151515" stroke-width="1"/>
<circle cx="775.25" cy="532.5" r="1.2" fill="#fff" stroke="#151515" stroke-width="0.9"/>
<circle cx="790" cy="532.5" r="1.2" fill="#fff" stroke="#151515" stroke-width="0.9"/>
<rect x="828" y="526" width="9.75" height="11.25" fill="#fafafa" stroke="#222" stroke-width="1"/>
<path d="M829.2 526.4 A3.8 3.8 0 0 0 836.6 526.4" fill="none" stroke="#333" stroke-width="0.9"/>
<rect x="837.75" y="526" width="14.25" height="12" fill="#fafafa" stroke="#222" stroke-width="1"/>
<rect x="852" y="527" width="1.6" height="11" fill="#888" stroke="#333" stroke-width="0.6"/>
<line x1="350.5" y1="430" x2="350.5" y2="475" stroke="#151515" stroke-width="0.9"/>
<line x1="350.5" y1="525" x2="350.5" y2="567.5" stroke="#151515" stroke-width="0.9"/>
<line x1="439.75" y1="430" x2="439.75" y2="468" stroke="#151515" stroke-width="0.9"/>
<line x1="439.75" y1="482" x2="439.75" y2="567.5" stroke="#151515" stroke-width="0.9"/>
<line x1="538.1" y1="456" x2="538.1" y2="567.5" stroke="#151515" stroke-width="0.9"/>
<line x1="734.6" y1="430" x2="734.6" y2="467.75" stroke="#151515" stroke-width="0.9"/>
<line x1="808.4" y1="430" x2="808.4" y2="467.75" stroke="#151515" stroke-width="0.9"/>
<line x1="808.4" y1="506" x2="808.4" y2="567.5" stroke="#151515" stroke-width="0.9"/>
<line x1="857.5" y1="430" x2="857.5" y2="470" stroke="#151515" stroke-width="0.9"/>
<line x1="350.5" y1="433.75" x2="857.5" y2="433.75" stroke="#333" stroke-width="0.9"/>
<path d="M350.5 433.75 L360.5 431.4 L360.5 436.1 Z" fill="#151515"/>
<path d="M439.75 433.75 L429.75 431.4 L429.75 436.1 Z" fill="#151515"/>
<path d="M439.75 433.75 L449.75 431.4 L449.75 436.1 Z" fill="#151515"/>
<path d="M734.6 433.75 L724.6 431.4 L724.6 436.1 Z" fill="#151515"/>
<path d="M734.6 433.75 L744.6 431.4 L744.6 436.1 Z" fill="#151515"/>
<path d="M808.4 433.75 L798.4 431.4 L798.4 436.1 Z" fill="#151515"/>
<path d="M808.4 433.75 L818.4 431.4 L818.4 436.1 Z" fill="#151515"/>
<path d="M857.5 433.75 L847.5 431.4 L847.5 436.1 Z" fill="#151515"/>
<line x1="350.5" y1="563.9" x2="808.4" y2="563.9" stroke="#444" stroke-width="0.9"/>
<path d="M350.5 563.9 L360.5 561.55 L360.5 566.25 Z" fill="#151515"/>
<path d="M439.75 563.9 L429.75 561.55 L429.75 566.25 Z" fill="#151515"/>
<path d="M439.75 563.9 L449.75 561.55 L449.75 566.25 Z" fill="#151515"/>
<path d="M538.1 563.9 L528.1 561.55 L528.1 566.25 Z" fill="#151515"/>
<path d="M538.1 563.9 L548.1 561.55 L548.1 566.25 Z" fill="#151515"/>
<path d="M808.4 563.9 L798.4 561.55 L798.4 566.25 Z" fill="#151515"/>
<line x1="879.6" y1="477.5" x2="879.6" y2="521.3" stroke="#151515" stroke-width="0.9"/>
<path d="M879.6 477.5 L877.25 487.5 L881.95 487.5 Z" fill="#151515"/>
<path d="M879.6 521.3 L877.25 511.3 L881.95 511.3 Z" fill="#151515"/>
<line x1="857.5" y1="473.4" x2="905" y2="473.4" stroke="#151515" stroke-width="0.9"/>
<line x1="857.5" y1="526.25" x2="905" y2="526.25" stroke="#151515" stroke-width="0.9"/>
<line x1="900.6" y1="473.4" x2="900.6" y2="526.25" stroke="#151515" stroke-width="0.9"/>
<path d="M900.6 473.4 L898.25 483.4 L902.95 483.4 Z" fill="#151515"/>
<path d="M900.6 526.25 L898.25 516.25 L902.95 516.25 Z" fill="#151515"/>
<text transform="translate(874.4 507.9) rotate(-90) scale(0.9702 1)" x="-0" y="0" font-family='"Liberation Sans", sans-serif' font-size="15.6" fill="#2a2a2a">45</text>
<text transform="translate(895.6 508) rotate(-90) scale(0.9818 1)" x="-0" y="0" font-family='"Liberation Sans", sans-serif' font-size="15.6" fill="#2a2a2a">54</text>
<line x1="524.4" y1="458.5" x2="538" y2="458.5" stroke="#151515" stroke-width="0.9"/>
<path d="M538 458.5 L533 457 L533 460 Z" fill="#151515"/>
<line x1="519.4" y1="543.75" x2="538" y2="543.75" stroke="#151515" stroke-width="0.9"/>
<path d="M538 543.75 L533 542.25 L533 545.25 Z" fill="#151515"/>
<text transform="translate(529 466.2) scale(0.7688 1)" x="-0" y="0" font-family='"Liberation Sans", sans-serif' font-size="7.5" fill="#111" font-weight="bold">c</text>
<text transform="translate(524.5 542) scale(0.7378 1)" x="-0" y="0" font-family='"Liberation Sans", sans-serif' font-size="8" fill="#111" font-weight="bold">C</text>
<line x1="578" y1="461.25" x2="707.5" y2="461.25" stroke="#555" stroke-width="0.9"/>
<line x1="578" y1="461.25" x2="517.5" y2="485.9" stroke="#151515" stroke-width="0.9"/>
<path d="M0 0 L-8 -2.2 L-8 2.2 Z" fill="#151515" transform="translate(540.14 476.57) rotate(157.83)"/>
<path d="M0 0 L-8 -2.2 L-8 2.2 Z" fill="#151515" transform="translate(536.06 478.23) rotate(337.83)"/>
<line x1="572.5" y1="550.4" x2="658.75" y2="550.4" stroke="#333" stroke-width="0.9"/>
<line x1="572.5" y1="550.4" x2="526" y2="481" stroke="#151515" stroke-width="0.9"/>
<path d="M0 0 L-9 -2.2 L-9 2.2 Z" fill="#151515" transform="translate(539.77 502.24) rotate(-123.82)"/>
<path d="M0 0 L-9 -2.2 L-9 2.2 Z" fill="#151515" transform="translate(536.43 497.26) rotate(56.18)"/>
<text transform="translate(380 428) scale(1.0930 1)" x="-0" y="0" font-family='"Liberation Sans", sans-serif' font-size="14.7" fill="#2a2a2a">90.5</text>
<text transform="translate(380 561.25) scale(1.0930 1)" x="-0" y="0" font-family='"Liberation Sans", sans-serif' font-size="14.7" fill="#2a2a2a">90.5</text>
<text transform="translate(564.5 428.5) scale(1.0592 1)" x="-0" y="0" font-family='"Liberation Sans", sans-serif' font-size="14.7" fill="#2a2a2a">M*100</text>
<text transform="translate(767.8 428.5) scale(0.8833 1)" x="-0" y="0" font-family='"Liberation Sans", sans-serif' font-size="14.7" fill="#2a2a2a">A</text>
<text transform="translate(824 428.5) scale(1.0572 1)" x="-0" y="0" font-family='"Liberation Sans", sans-serif' font-size="14.7" fill="#2a2a2a">50</text>
<text transform="translate(453.75 561.3) scale(1.1433 1)" x="-0" y="0" font-family='"Liberation Sans", sans-serif' font-size="14.7" fill="#2a2a2a">100±0.02</text>
<text transform="translate(668.75 560.25) scale(0.9258 1)" x="-0" y="0" font-family='"Liberation Sans", sans-serif' font-size="13.4" fill="#2a2a2a">P</text>
<text transform="translate(577.25 457) scale(0.8292 1)" x="-0" y="0" font-family='"Liberation Sans", sans-serif' font-size="13.4" fill="#2a2a2a">N</text>
<line x1="588" y1="452.6" x2="597" y2="452.6" stroke="#666" stroke-width="1"/>
<text transform="translate(599.4 457) scale(0.9986 1)" x="-0" y="0" font-family='"Liberation Sans", sans-serif' font-size="13.4" fill="#2a2a2a">M5</text>
<path d="M621.5 448.1 H628.8 M625.15 448.1 V454.8" stroke="#2a2a2a" stroke-width="1.25" fill="none"/>
<path d="M625.15 456 L621.94 451.21 L628.36 451.21 Z" fill="#2a2a2a"/>
<text transform="translate(633 457) scale(0.8908 1)" x="-0" y="0" font-family='"Liberation Sans", sans-serif' font-size="13.4" fill="#2a2a2a">13</text>
<text transform="translate(648.5 456.5) scale(1.1481 1)" x="-0" y="0" font-family='"Liberation Sans", sans-serif' font-size="13.4" fill="#2a2a2a">+</text>
<text transform="translate(660.25 457) scale(0.9481 1)" x="-0" y="0" font-family='"Liberation Sans", sans-serif' font-size="13.4" fill="#2a2a2a">ø</text>
<text transform="translate(669.4 457) scale(1.1731 1)" x="-0" y="0" font-family='"Liberation Sans", sans-serif' font-size="13.4" fill="#2a2a2a">4.3</text>
<text transform="translate(693 457) scale(1.0645 1)" x="-0" y="0" font-family='"Liberation Sans", sans-serif' font-size="11.2" fill="#2a2a2a">THR</text>
<text transform="translate(577.5 546.9) scale(0.9256 1)" x="-0" y="0" font-family='"Liberation Sans", sans-serif' font-size="14.6" fill="#2a2a2a">2</text>
<line x1="588" y1="542.4" x2="596.25" y2="542.4" stroke="#666" stroke-width="1"/>
<text transform="translate(598.75 546.9) scale(1.0323 1)" x="-0" y="0" font-family='"Liberation Sans", sans-serif' font-size="14.6" fill="#2a2a2a">ø5H7</text>
<path d="M638.75 536.5 H646.25 M642.5 536.5 V544.2" stroke="#2a2a2a" stroke-width="1.25" fill="none"/>
<path d="M642.5 545.4 L639.2 540.05 L645.8 540.05 Z" fill="#2a2a2a"/>
<text transform="translate(650.6 546.9) scale(0.9132 1)" x="-0" y="0" font-family='"Liberation Sans", sans-serif' font-size="14.6" fill="#2a2a2a">6</text>
<text x="881.3" y="545.3" font-family='"Liberation Serif", "Noto Serif CJK SC", serif' font-size="9.4" fill="#111" stroke="#111" stroke-width="0.45" textLength="27.8" lengthAdjust="spacing">基準面</text>
<line x1="881.5" y1="548.5" x2="935" y2="548.5" stroke="#151515" stroke-width="0.9"/>
<path d="M935 548.6 L925 546.4 L925 550.8 Z" fill="#151515"/>
<text transform="translate(211.2 459.4) scale(1.0803 1)" x="-0" y="0" font-family='"Liberation Serif", serif' font-size="10.5" fill="#555">I</text>
<line x1="199" y1="463.5" x2="228.75" y2="463.5" stroke="#444" stroke-width="1"/>
<text transform="translate(200.6 473.4) scale(0.8762 1)" x="-0" y="0" font-family='"Liberation Serif", serif' font-size="10.5" fill="#555">2</text>
<text transform="translate(209.5 473.4) scale(0.5102 1)" x="-0" y="0" font-family='"Liberation Serif", serif' font-size="10.5" fill="#555">:</text>
<text transform="translate(223.6 473.4) scale(0.8000 1)" x="-0" y="0" font-family='"Liberation Serif", serif' font-size="10.5" fill="#555">1</text>
<line x1="179.4" y1="492" x2="208.75" y2="492" stroke="#888" stroke-width="1.2"/>
<line x1="179.4" y1="502" x2="208.75" y2="502" stroke="#888" stroke-width="1.2"/>
<ellipse cx="214" cy="497" rx="6.8" ry="5.2" fill="#fff" stroke="#151515" stroke-width="1"/>
<line x1="205.5" y1="497" x2="223" y2="497" stroke="#555" stroke-width="0.8"/>
<line x1="214" y1="489.5" x2="214" y2="504.5" stroke="#555" stroke-width="0.8"/>
<line x1="183.5" y1="472.5" x2="183.5" y2="521.5" stroke="#151515" stroke-width="0.9"/>
<path d="M183.5 492 L181.3 481.5 L185.7 481.5 Z" fill="#151515"/>
<path d="M183.5 502 L181.3 512.5 L185.7 512.5 Z" fill="#151515"/>
<line x1="207.25" y1="501" x2="207.25" y2="534.4" stroke="#151515" stroke-width="0.9"/>
<line x1="220.4" y1="501" x2="220.4" y2="534.4" stroke="#151515" stroke-width="0.9"/>
<line x1="187.5" y1="530.4" x2="252.75" y2="530.4" stroke="#151515" stroke-width="0.9"/>
<path d="M207.25 530.4 L196.75 528.2 L196.75 532.6 Z" fill="#151515"/>
<path d="M220.4 530.4 L230.9 528.2 L230.9 532.6 Z" fill="#151515"/>
<text transform="translate(242 528) scale(0.7949 1)" x="-0" y="0" font-family='"Liberation Sans", sans-serif' font-size="13.6" fill="#2a2a2a">7</text>
<text transform="translate(177.8 484.2) rotate(-90)" x="0" y="0" font-family='"Liberation Sans", "Noto Sans CJK TC", sans-serif' font-size="13" fill="#222" stroke="#222" stroke-width="0.2">深</text>
<text transform="translate(177.3 470.6) rotate(-90) scale(0.8769 1)" x="-0" y="0" font-family='"Liberation Sans", sans-serif' font-size="15" fill="#2a2a2a">5</text>
<text transform="translate(177 530) rotate(-90) scale(1.2519 1)" x="-0" y="0" font-family='"Liberation Sans", sans-serif' font-size="15.4" fill="#2a2a2a">5</text>
<text transform="translate(168.6 521) rotate(-90) scale(0.9944 1)" x="-0" y="0" font-family='"Liberation Sans", sans-serif' font-size="11.8" fill="#2a2a2a">+0.012</text>
<text transform="translate(177 514.4) rotate(-90) scale(1.4014 1)" x="-0" y="0" font-family='"Liberation Sans", sans-serif' font-size="7.2" fill="#2a2a2a" stroke="#2a2a2a" stroke-width="0.3">0</text>
<path d="M934.75 512.5 H951.25 V516.5 H955.6 V543.5 H1020 V516.5 H1024.4 V512.5 H1040.6 V555.25 H1014.4 V554.4 H960.6 V555.25 H934.75 Z" fill="url(#hatch)" stroke="#151515" stroke-width="1.2"/>
<rect x="939.4" y="512.5" width="8.35" height="17.5" fill="#fff" stroke="#222" stroke-width="0.9"/>
<rect x="938.75" y="530" width="9.75" height="25.25" fill="#fff" stroke="#151515" stroke-width="1.5"/>
<line x1="938.75" y1="530" x2="948.5" y2="530" stroke="#777" stroke-width="0.9"/>
<rect x="1027.5" y="512.5" width="9.4" height="17.5" fill="#fff" stroke="#222" stroke-width="0.9"/>
<rect x="1027" y="530" width="10.4" height="25.25" fill="#fff" stroke="#333" stroke-width="1.2"/>
<line x1="1027" y1="530" x2="1037.4" y2="530" stroke="#444" stroke-width="1.2"/>
<path d="M982.5 555.25 V550 Q982.5 547.5 985 547.5 H990 Q992.5 547.5 992.5 550 V555.25 Z" fill="#fff" stroke="#333" stroke-width="0.8"/>
<line x1="982.5" y1="555.3" x2="992.5" y2="555.3" stroke="#fff" stroke-width="1.2"/>
<line x1="943.5" y1="508.75" x2="943.5" y2="558.75" stroke="#151515" stroke-width="0.9" stroke-dasharray="12 2 2.5 2"/>
<line x1="1031.6" y1="508.75" x2="1031.6" y2="558.75" stroke="#555" stroke-width="0.9" stroke-dasharray="12 2 2.5 2"/>
<line x1="987.5" y1="535.6" x2="987.5" y2="582.5" stroke="#222" stroke-width="0.9" stroke-dasharray="14 2 2.5 2"/>
<line x1="934.4" y1="497" x2="934.4" y2="512" stroke="#151515" stroke-width="0.9"/>
<line x1="1040.6" y1="497" x2="1040.6" y2="512" stroke="#151515" stroke-width="0.9"/>
<line x1="934.4" y1="501" x2="1040.6" y2="501" stroke="#151515" stroke-width="0.9"/>
<path d="M934.4 501 L944.9 498.7 L944.9 503.3 Z" fill="#151515"/>
<path d="M1040.6 501 L1030.1 498.7 L1030.1 503.3 Z" fill="#151515"/>
<text transform="translate(974 479.75) scale(0.7062 1)" x="-0" y="0" font-family='"Liberation Sans", sans-serif' font-size="11.8" fill="#111" font-weight="bold">C</text>
<line x1="980.2" y1="475.6" x2="986.2" y2="475.6" stroke="#111" stroke-width="1.5"/>
<text transform="translate(986.2 479.75) scale(0.7121 1)" x="-0" y="0" font-family='"Liberation Sans", sans-serif' font-size="11.8" fill="#111" font-weight="bold">C</text>
<text transform="translate(975.6 496.5) scale(0.9072 1)" x="-0" y="0" font-family='"Liberation Sans", sans-serif' font-size="14.3" fill="#111" stroke="#111" stroke-width="0.3">54</text>
<line x1="935.25" y1="558" x2="935.25" y2="582.5" stroke="#151515" stroke-width="0.9"/>
<line x1="1040.6" y1="558" x2="1040.6" y2="582.5" stroke="#151515" stroke-width="0.9"/>
<line x1="935.25" y1="578.75" x2="1040.6" y2="578.75" stroke="#151515" stroke-width="0.9"/>
<path d="M935.25 578.75 L945.75 576.45 L945.75 581.05 Z" fill="#151515"/>
<path d="M987.5 578.75 L977 576.45 L977 581.05 Z" fill="#151515"/>
<path d="M987.5 578.75 L998 576.45 L998 581.05 Z" fill="#151515"/>
<path d="M1040.6 578.75 L1030.1 576.45 L1030.1 581.05 Z" fill="#151515"/>
<text transform="translate(931 574) scale(1.0295 1)" x="-0" y="0" font-family='"Liberation Sans", sans-serif' font-size="13.4" fill="#111" stroke="#111" stroke-width="0.45">26.7±0.03</text>
<text transform="translate(1007.5 574) scale(0.8807 1)" x="-0" y="0" font-family='"Liberation Sans", sans-serif' font-size="13.4" fill="#111" stroke="#111" stroke-width="0.45">27</text>
<rect x="164.5" y="633.25" width="870.5" height="43" fill="#f0a446"/>
<rect x="164.5" y="676.25" width="101.25" height="100.75" fill="#fcf1ea"/>
<line x1="164" y1="633.25" x2="1035.5" y2="633.25" stroke="#2a1a10" stroke-width="1.6"/>
<line x1="164.5" y1="676.25" x2="1035" y2="676.25" stroke="#3a2a20" stroke-width="1.2"/>
<line x1="164.5" y1="693.04" x2="1035" y2="693.04" stroke="#555" stroke-width="1"/>
<line x1="164.5" y1="709.83" x2="1035" y2="709.83" stroke="#555" stroke-width="1"/>
<line x1="164.5" y1="726.62" x2="1035" y2="726.62" stroke="#555" stroke-width="1"/>
<line x1="164.5" y1="743.42" x2="1035" y2="743.42" stroke="#555" stroke-width="1"/>
<line x1="164.5" y1="760.21" x2="1035" y2="760.21" stroke="#555" stroke-width="1"/>
<line x1="164.5" y1="777" x2="1035" y2="777" stroke="#333" stroke-width="1.2"/>
<line x1="164.5" y1="633.25" x2="164.5" y2="777" stroke="#bdb6b0" stroke-width="1"/>
<line x1="265.75" y1="633.25" x2="265.75" y2="676.25" stroke="#7a4a18" stroke-width="1.1"/>
<line x1="265.75" y1="676.25" x2="265.75" y2="777" stroke="#777" stroke-width="1"/>
<line x1="313.83" y1="633.25" x2="313.83" y2="676.25" stroke="#7a4a18" stroke-width="1.1"/>
<line x1="313.83" y1="676.25" x2="313.83" y2="777" stroke="#777" stroke-width="1"/>
<line x1="361.91" y1="633.25" x2="361.91" y2="676.25" stroke="#7a4a18" stroke-width="1.1"/>
<line x1="361.91" y1="676.25" x2="361.91" y2="777" stroke="#777" stroke-width="1"/>
<line x1="409.98" y1="633.25" x2="409.98" y2="676.25" stroke="#7a4a18" stroke-width="1.1"/>
<line x1="409.98" y1="676.25" x2="409.98" y2="777" stroke="#777" stroke-width="1"/>
<line x1="458.06" y1="633.25" x2="458.06" y2="676.25" stroke="#7a4a18" stroke-width="1.1"/>
<line x1="458.06" y1="676.25" x2="458.06" y2="777" stroke="#777" stroke-width="1"/>
<line x1="506.14" y1="633.25" x2="506.14" y2="676.25" stroke="#7a4a18" stroke-width="1.1"/>
<line x1="506.14" y1="676.25" x2="506.14" y2="777" stroke="#777" stroke-width="1"/>
<line x1="554.22" y1="633.25" x2="554.22" y2="676.25" stroke="#7a4a18" stroke-width="1.1"/>
<line x1="554.22" y1="676.25" x2="554.22" y2="777" stroke="#777" stroke-width="1"/>
<line x1="602.3" y1="633.25" x2="602.3" y2="676.25" stroke="#7a4a18" stroke-width="1.1"/>
<line x1="602.3" y1="676.25" x2="602.3" y2="777" stroke="#777" stroke-width="1"/>
<line x1="650.38" y1="633.25" x2="650.38" y2="676.25" stroke="#7a4a18" stroke-width="1.1"/>
<line x1="650.38" y1="676.25" x2="650.38" y2="777" stroke="#777" stroke-width="1"/>
<line x1="698.45" y1="633.25" x2="698.45" y2="676.25" stroke="#7a4a18" stroke-width="1.1"/>
<line x1="698.45" y1="676.25" x2="698.45" y2="777" stroke="#777" stroke-width="1"/>
<line x1="746.53" y1="633.25" x2="746.53" y2="676.25" stroke="#7a4a18" stroke-width="1.1"/>
<line x1="746.53" y1="676.25" x2="746.53" y2="777" stroke="#777" stroke-width="1"/>
<line x1="794.61" y1="633.25" x2="794.61" y2="676.25" stroke="#7a4a18" stroke-width="1.1"/>
<line x1="794.61" y1="676.25" x2="794.61" y2="777" stroke="#777" stroke-width="1"/>
<line x1="842.69" y1="633.25" x2="842.69" y2="676.25" stroke="#7a4a18" stroke-width="1.1"/>
<line x1="842.69" y1="676.25" x2="842.69" y2="777" stroke="#777" stroke-width="1"/>
<line x1="890.77" y1="633.25" x2="890.77" y2="676.25" stroke="#7a4a18" stroke-width="1.1"/>
<line x1="890.77" y1="676.25" x2="890.77" y2="777" stroke="#777" stroke-width="1"/>
<line x1="938.84" y1="633.25" x2="938.84" y2="676.25" stroke="#7a4a18" stroke-width="1.1"/>
<line x1="938.84" y1="676.25" x2="938.84" y2="777" stroke="#777" stroke-width="1"/>
<line x1="986.92" y1="633.25" x2="986.92" y2="676.25" stroke="#7a4a18" stroke-width="1.1"/>
<line x1="986.92" y1="676.25" x2="986.92" y2="777" stroke="#777" stroke-width="1"/>
<line x1="1035" y1="633.25" x2="1035" y2="676.25" stroke="#7a4a18" stroke-width="1.1"/>
<line x1="1035" y1="676.25" x2="1035" y2="777" stroke="#777" stroke-width="1"/>
<text x="181.6" y="654.6" font-family='"Liberation Sans", "Noto Sans CJK TC", sans-serif' font-size="15.2" font-weight="500" fill="#fff" textLength="62.45" lengthAdjust="spacing">有效行程</text>
<text x="211.5" y="670.2" font-family='"Liberation Sans", sans-serif' font-size="16" fill="#fff" textLength="43.5" lengthAdjust="spacing" text-anchor="middle">stroke</text>
<text x="289.79" y="661.2" font-family='"Liberation Sans", sans-serif' font-size="15" fill="#fff" text-anchor="middle">50</text>
<text x="337.87" y="661.2" font-family='"Liberation Sans", sans-serif' font-size="15" fill="#fff" text-anchor="middle">100</text>
<text x="385.95" y="661.2" font-family='"Liberation Sans", sans-serif' font-size="15" fill="#fff" text-anchor="middle">150</text>
<text x="434.02" y="661.2" font-family='"Liberation Sans", sans-serif' font-size="15" fill="#fff" text-anchor="middle">200</text>
<text x="482.1" y="661.2" font-family='"Liberation Sans", sans-serif' font-size="15" fill="#fff" text-anchor="middle">250</text>
<text x="530.18" y="661.2" font-family='"Liberation Sans", sans-serif' font-size="15" fill="#fff" text-anchor="middle">300</text>
<text x="578.26" y="661.2" font-family='"Liberation Sans", sans-serif' font-size="15" fill="#fff" text-anchor="middle">350</text>
<text x="626.34" y="661.2" font-family='"Liberation Sans", sans-serif' font-size="15" fill="#fff" text-anchor="middle">400</text>
<text x="674.41" y="661.2" font-family='"Liberation Sans", sans-serif' font-size="15" fill="#fff" text-anchor="middle">450</text>
<text x="722.49" y="661.2" font-family='"Liberation Sans", sans-serif' font-size="15" fill="#fff" text-anchor="middle">500</text>
<text x="770.57" y="661.2" font-family='"Liberation Sans", sans-serif' font-size="15" fill="#fff" text-anchor="middle">550</text>
<text x="818.65" y="661.2" font-family='"Liberation Sans", sans-serif' font-size="15" fill="#fff" text-anchor="middle">600</text>
<text x="866.73" y="661.2" font-family='"Liberation Sans", sans-serif' font-size="15" fill="#fff" text-anchor="middle">650</text>
<text x="914.8" y="661.2" font-family='"Liberation Sans", sans-serif' font-size="15" fill="#fff" text-anchor="middle">700</text>
<text x="962.88" y="661.2" font-family='"Liberation Sans", sans-serif' font-size="15" fill="#fff" text-anchor="middle">750</text>
<text x="1010.96" y="661.2" font-family='"Liberation Sans", sans-serif' font-size="15" fill="#fff" text-anchor="middle">800</text>
<text x="215.12" y="690.35" font-family='"Liberation Sans", sans-serif' font-size="14" fill="#111" text-anchor="middle">L</text>
<text x="289.79" y="690.35" font-family='"Liberation Sans", sans-serif' font-size="14" fill="#111" text-anchor="middle">265.5</text>
<text x="337.87" y="690.35" font-family='"Liberation Sans", sans-serif' font-size="14" fill="#111" text-anchor="middle">315.5</text>
<text x="385.95" y="690.35" font-family='"Liberation Sans", sans-serif' font-size="14" fill="#111" text-anchor="middle">365.5</text>
<text x="434.02" y="690.35" font-family='"Liberation Sans", sans-serif' font-size="14" fill="#111" text-anchor="middle">415.5</text>
<text x="482.1" y="690.35" font-family='"Liberation Sans", sans-serif' font-size="14" fill="#111" text-anchor="middle">465.5</text>
<text x="530.18" y="690.35" font-family='"Liberation Sans", sans-serif' font-size="14" fill="#111" text-anchor="middle">515.5</text>
<text x="578.26" y="690.35" font-family='"Liberation Sans", sans-serif' font-size="14" fill="#111" text-anchor="middle">565.5</text>
<text x="626.34" y="690.35" font-family='"Liberation Sans", sans-serif' font-size="14" fill="#111" text-anchor="middle">615.5</text>
<text x="674.41" y="690.35" font-family='"Liberation Sans", sans-serif' font-size="14" fill="#111" text-anchor="middle">665.5</text>
<text x="722.49" y="690.35" font-family='"Liberation Sans", sans-serif' font-size="14" fill="#111" text-anchor="middle">715.5</text>
<text x="770.57" y="690.35" font-family='"Liberation Sans", sans-serif' font-size="14" fill="#111" text-anchor="middle">765.5</text>
<text x="818.65" y="690.35" font-family='"Liberation Sans", sans-serif' font-size="14" fill="#111" text-anchor="middle">815.5</text>
<text x="866.73" y="690.35" font-family='"Liberation Sans", sans-serif' font-size="14" fill="#111" text-anchor="middle">865.5</text>
<text x="914.8" y="690.35" font-family='"Liberation Sans", sans-serif' font-size="14" fill="#111" text-anchor="middle">915.5</text>
<text x="962.88" y="690.35" font-family='"Liberation Sans", sans-serif' font-size="14" fill="#111" text-anchor="middle">965.5</text>
<text x="1010.96" y="690.35" font-family='"Liberation Sans", sans-serif' font-size="14" fill="#111" text-anchor="middle" textLength="37.5" lengthAdjust="spacingAndGlyphs">1015.5</text>
<text x="215.12" y="707.14" font-family='"Liberation Sans", sans-serif' font-size="14" fill="#111" text-anchor="middle">A</text>
<text transform="translate(289.79 707.14) scale(1.1 1)" x="0" y="0" font-family='"Liberation Sans", sans-serif' font-size="14" fill="#111" text-anchor="middle">25</text>
<text transform="translate(337.87 707.14) scale(1.1 1)" x="0" y="0" font-family='"Liberation Sans", sans-serif' font-size="14" fill="#111" text-anchor="middle">75</text>
<text transform="translate(385.95 707.14) scale(1.1 1)" x="0" y="0" font-family='"Liberation Sans", sans-serif' font-size="14" fill="#111" text-anchor="middle">25</text>
<text transform="translate(434.02 707.14) scale(1.1 1)" x="0" y="0" font-family='"Liberation Sans", sans-serif' font-size="14" fill="#111" text-anchor="middle">75</text>
<text transform="translate(482.1 707.14) scale(1.1 1)" x="0" y="0" font-family='"Liberation Sans", sans-serif' font-size="14" fill="#111" text-anchor="middle">25</text>
<text transform="translate(530.18 707.14) scale(1.1 1)" x="0" y="0" font-family='"Liberation Sans", sans-serif' font-size="14" fill="#111" text-anchor="middle">75</text>
<text transform="translate(578.26 707.14) scale(1.1 1)" x="0" y="0" font-family='"Liberation Sans", sans-serif' font-size="14" fill="#111" text-anchor="middle">25</text>
<text transform="translate(626.34 707.14) scale(1.1 1)" x="0" y="0" font-family='"Liberation Sans", sans-serif' font-size="14" fill="#111" text-anchor="middle">75</text>
<text transform="translate(674.41 707.14) scale(1.1 1)" x="0" y="0" font-family='"Liberation Sans", sans-serif' font-size="14" fill="#111" text-anchor="middle">25</text>
<text transform="translate(722.49 707.14) scale(1.1 1)" x="0" y="0" font-family='"Liberation Sans", sans-serif' font-size="14" fill="#111" text-anchor="middle">75</text>
<text transform="translate(770.57 707.14) scale(1.1 1)" x="0" y="0" font-family='"Liberation Sans", sans-serif' font-size="14" fill="#111" text-anchor="middle">25</text>
<text transform="translate(818.65 707.14) scale(1.1 1)" x="0" y="0" font-family='"Liberation Sans", sans-serif' font-size="14" fill="#111" text-anchor="middle">75</text>
<text transform="translate(866.73 707.14) scale(1.1 1)" x="0" y="0" font-family='"Liberation Sans", sans-serif' font-size="14" fill="#111" text-anchor="middle">25</text>
<text transform="translate(914.8 707.14) scale(1.1 1)" x="0" y="0" font-family='"Liberation Sans", sans-serif' font-size="14" fill="#111" text-anchor="middle">75</text>
<text transform="translate(962.88 707.14) scale(1.1 1)" x="0" y="0" font-family='"Liberation Sans", sans-serif' font-size="14" fill="#111" text-anchor="middle">25</text>
<text transform="translate(1010.96 707.14) scale(1.1 1)" x="0" y="0" font-family='"Liberation Sans", sans-serif' font-size="14" fill="#111" text-anchor="middle">75</text>
<text x="215.12" y="723.93" font-family='"Liberation Sans", sans-serif' font-size="14" fill="#111" text-anchor="middle">M</text>
<text transform="translate(289.79 723.93) scale(1.1 1)" x="0" y="0" font-family='"Liberation Sans", sans-serif' font-size="14" fill="#111" text-anchor="middle">1</text>
<text transform="translate(337.87 723.93) scale(1.1 1)" x="0" y="0" font-family='"Liberation Sans", sans-serif' font-size="14" fill="#111" text-anchor="middle">1</text>
<text transform="translate(385.95 723.93) scale(1.1 1)" x="0" y="0" font-family='"Liberation Sans", sans-serif' font-size="14" fill="#111" text-anchor="middle">2</text>
<text transform="translate(434.02 723.93) scale(1.1 1)" x="0" y="0" font-family='"Liberation Sans", sans-serif' font-size="14" fill="#111" text-anchor="middle">2</text>
<text transform="translate(482.1 723.93) scale(1.1 1)" x="0" y="0" font-family='"Liberation Sans", sans-serif' font-size="14" fill="#111" text-anchor="middle">3</text>
<text transform="translate(530.18 723.93) scale(1.1 1)" x="0" y="0" font-family='"Liberation Sans", sans-serif' font-size="14" fill="#111" text-anchor="middle">3</text>
<text transform="translate(578.26 723.93) scale(1.1 1)" x="0" y="0" font-family='"Liberation Sans", sans-serif' font-size="14" fill="#111" text-anchor="middle">4</text>
<text transform="translate(626.34 723.93) scale(1.1 1)" x="0" y="0" font-family='"Liberation Sans", sans-serif' font-size="14" fill="#111" text-anchor="middle">4</text>
<text transform="translate(674.41 723.93) scale(1.1 1)" x="0" y="0" font-family='"Liberation Sans", sans-serif' font-size="14" fill="#111" text-anchor="middle">5</text>
<text transform="translate(722.49 723.93) scale(1.1 1)" x="0" y="0" font-family='"Liberation Sans", sans-serif' font-size="14" fill="#111" text-anchor="middle">5</text>
<text transform="translate(770.57 723.93) scale(1.1 1)" x="0" y="0" font-family='"Liberation Sans", sans-serif' font-size="14" fill="#111" text-anchor="middle">6</text>
<text transform="translate(818.65 723.93) scale(1.1 1)" x="0" y="0" font-family='"Liberation Sans", sans-serif' font-size="14" fill="#111" text-anchor="middle">6</text>
<text transform="translate(866.73 723.93) scale(1.1 1)" x="0" y="0" font-family='"Liberation Sans", sans-serif' font-size="14" fill="#111" text-anchor="middle">7</text>
<text transform="translate(914.8 723.93) scale(1.1 1)" x="0" y="0" font-family='"Liberation Sans", sans-serif' font-size="14" fill="#111" text-anchor="middle">7</text>
<text transform="translate(962.88 723.93) scale(1.1 1)" x="0" y="0" font-family='"Liberation Sans", sans-serif' font-size="14" fill="#111" text-anchor="middle">8</text>
<text transform="translate(1010.96 723.93) scale(1.1 1)" x="0" y="0" font-family='"Liberation Sans", sans-serif' font-size="14" fill="#111" text-anchor="middle">8</text>
<text x="215.12" y="740.73" font-family='"Liberation Sans", sans-serif' font-size="14" fill="#111" text-anchor="middle">N</text>
<text transform="translate(289.79 740.73) scale(1.1 1)" x="0" y="0" font-family='"Liberation Sans", sans-serif' font-size="14" fill="#111" text-anchor="middle">6</text>
<text transform="translate(337.87 740.73) scale(1.1 1)" x="0" y="0" font-family='"Liberation Sans", sans-serif' font-size="14" fill="#111" text-anchor="middle">6</text>
<text transform="translate(385.95 740.73) scale(1.1 1)" x="0" y="0" font-family='"Liberation Sans", sans-serif' font-size="14" fill="#111" text-anchor="middle">8</text>
<text transform="translate(434.02 740.73) scale(1.1 1)" x="0" y="0" font-family='"Liberation Sans", sans-serif' font-size="14" fill="#111" text-anchor="middle">8</text>
<text transform="translate(482.1 740.73) scale(1.1 1)" x="0" y="0" font-family='"Liberation Sans", sans-serif' font-size="14" fill="#111" text-anchor="middle">10</text>
<text transform="translate(530.18 740.73) scale(1.1 1)" x="0" y="0" font-family='"Liberation Sans", sans-serif' font-size="14" fill="#111" text-anchor="middle">10</text>
<text transform="translate(578.26 740.73) scale(1.1 1)" x="0" y="0" font-family='"Liberation Sans", sans-serif' font-size="14" fill="#111" text-anchor="middle">12</text>
<text transform="translate(626.34 740.73) scale(1.1 1)" x="0" y="0" font-family='"Liberation Sans", sans-serif' font-size="14" fill="#111" text-anchor="middle">12</text>
<text transform="translate(674.41 740.73) scale(1.1 1)" x="0" y="0" font-family='"Liberation Sans", sans-serif' font-size="14" fill="#111" text-anchor="middle">14</text>
<text transform="translate(722.49 740.73) scale(1.1 1)" x="0" y="0" font-family='"Liberation Sans", sans-serif' font-size="14" fill="#111" text-anchor="middle">14</text>
<text transform="translate(770.57 740.73) scale(1.1 1)" x="0" y="0" font-family='"Liberation Sans", sans-serif' font-size="14" fill="#111" text-anchor="middle">16</text>
<text transform="translate(818.65 740.73) scale(1.1 1)" x="0" y="0" font-family='"Liberation Sans", sans-serif' font-size="14" fill="#111" text-anchor="middle">16</text>
<text transform="translate(866.73 740.73) scale(1.1 1)" x="0" y="0" font-family='"Liberation Sans", sans-serif' font-size="14" fill="#111" text-anchor="middle">18</text>
<text transform="translate(914.8 740.73) scale(1.1 1)" x="0" y="0" font-family='"Liberation Sans", sans-serif' font-size="14" fill="#111" text-anchor="middle">18</text>
<text transform="translate(962.88 740.73) scale(1.1 1)" x="0" y="0" font-family='"Liberation Sans", sans-serif' font-size="14" fill="#111" text-anchor="middle">20</text>
<text transform="translate(1010.96 740.73) scale(1.1 1)" x="0" y="0" font-family='"Liberation Sans", sans-serif' font-size="14" fill="#111" text-anchor="middle">20</text>
<text x="215.12" y="757.52" font-family='"Liberation Sans", sans-serif' font-size="14" fill="#111" text-anchor="middle">P</text>
<text transform="translate(289.79 757.52) scale(1.1 1)" x="0" y="0" font-family='"Liberation Sans", sans-serif' font-size="14" fill="#111" text-anchor="middle">25</text>
<text transform="translate(337.87 757.52) scale(1.1 1)" x="0" y="0" font-family='"Liberation Sans", sans-serif' font-size="14" fill="#111" text-anchor="middle">75</text>
<text transform="translate(385.95 757.52) scale(1.1 1)" x="0" y="0" font-family='"Liberation Sans", sans-serif' font-size="14" fill="#111" text-anchor="middle">125</text>
<text transform="translate(434.02 757.52) scale(1.1 1)" x="0" y="0" font-family='"Liberation Sans", sans-serif' font-size="14" fill="#111" text-anchor="middle">175</text>
<text transform="translate(482.1 757.52) scale(1.1 1)" x="0" y="0" font-family='"Liberation Sans", sans-serif' font-size="14" fill="#111" text-anchor="middle">225</text>
<text transform="translate(530.18 757.52) scale(1.1 1)" x="0" y="0" font-family='"Liberation Sans", sans-serif' font-size="14" fill="#111" text-anchor="middle">275</text>
<text transform="translate(578.26 757.52) scale(1.1 1)" x="0" y="0" font-family='"Liberation Sans", sans-serif' font-size="14" fill="#111" text-anchor="middle">325</text>
<text transform="translate(626.34 757.52) scale(1.1 1)" x="0" y="0" font-family='"Liberation Sans", sans-serif' font-size="14" fill="#111" text-anchor="middle">375</text>
<text transform="translate(674.41 757.52) scale(1.1 1)" x="0" y="0" font-family='"Liberation Sans", sans-serif' font-size="14" fill="#111" text-anchor="middle">425</text>
<text transform="translate(722.49 757.52) scale(1.1 1)" x="0" y="0" font-family='"Liberation Sans", sans-serif' font-size="14" fill="#111" text-anchor="middle">475</text>
<text transform="translate(770.57 757.52) scale(1.1 1)" x="0" y="0" font-family='"Liberation Sans", sans-serif' font-size="14" fill="#111" text-anchor="middle">525</text>
<text transform="translate(818.65 757.52) scale(1.1 1)" x="0" y="0" font-family='"Liberation Sans", sans-serif' font-size="14" fill="#111" text-anchor="middle">575</text>
<text transform="translate(866.73 757.52) scale(1.1 1)" x="0" y="0" font-family='"Liberation Sans", sans-serif' font-size="14" fill="#111" text-anchor="middle">625</text>
<text transform="translate(914.8 757.52) scale(1.1 1)" x="0" y="0" font-family='"Liberation Sans", sans-serif' font-size="14" fill="#111" text-anchor="middle">675</text>
<text transform="translate(962.88 757.52) scale(1.1 1)" x="0" y="0" font-family='"Liberation Sans", sans-serif' font-size="14" fill="#111" text-anchor="middle">725</text>
<text transform="translate(1010.96 757.52) scale(1.1 1)" x="0" y="0" font-family='"Liberation Sans", sans-serif' font-size="14" fill="#111" text-anchor="middle">775</text>
<text x="215.12" y="774.31" font-family='"Liberation Sans", sans-serif' font-size="14" fill="#111" text-anchor="middle">KG</text>
<text x="289.79" y="774.31" font-family='"Liberation Sans", sans-serif' font-size="14" fill="#111" text-anchor="middle">2.23</text>
<text x="337.87" y="774.31" font-family='"Liberation Sans", sans-serif' font-size="14" fill="#111" text-anchor="middle">2.42</text>
<text x="385.95" y="774.31" font-family='"Liberation Sans", sans-serif' font-size="14" fill="#111" text-anchor="middle">2.62</text>
<text x="434.02" y="774.31" font-family='"Liberation Sans", sans-serif' font-size="14" fill="#111" text-anchor="middle">2.82</text>
<text x="482.1" y="774.31" font-family='"Liberation Sans", sans-serif' font-size="14" fill="#111" text-anchor="middle">3.01</text>
<text x="530.18" y="774.31" font-family='"Liberation Sans", sans-serif' font-size="14" fill="#111" text-anchor="middle">3.21</text>
<text x="578.26" y="774.31" font-family='"Liberation Sans", sans-serif' font-size="14" fill="#111" text-anchor="middle">3.41</text>
<text x="626.34" y="774.31" font-family='"Liberation Sans", sans-serif' font-size="14" fill="#111" text-anchor="middle">3.6</text>
<text x="674.41" y="774.31" font-family='"Liberation Sans", sans-serif' font-size="14" fill="#111" text-anchor="middle">3.8</text>
<text transform="translate(722.49 774.31) scale(1.1 1)" x="0" y="0" font-family='"Liberation Sans", sans-serif' font-size="14" fill="#111" text-anchor="middle">4</text>
<text x="770.57" y="774.31" font-family='"Liberation Sans", sans-serif' font-size="14" fill="#111" text-anchor="middle">4.19</text>
<text x="818.65" y="774.31" font-family='"Liberation Sans", sans-serif' font-size="14" fill="#111" text-anchor="middle">4.39</text>
<text x="866.73" y="774.31" font-family='"Liberation Sans", sans-serif' font-size="14" fill="#111" text-anchor="middle">4.59</text>
<text x="914.8" y="774.31" font-family='"Liberation Sans", sans-serif' font-size="14" fill="#111" text-anchor="middle">4.8</text>
<text x="962.88" y="774.31" font-family='"Liberation Sans", sans-serif' font-size="14" fill="#111" text-anchor="middle">4.98</text>
<text x="1010.96" y="774.31" font-family='"Liberation Sans", sans-serif' font-size="14" fill="#111" text-anchor="middle">5.1</text>
</svg>
</body></html>
